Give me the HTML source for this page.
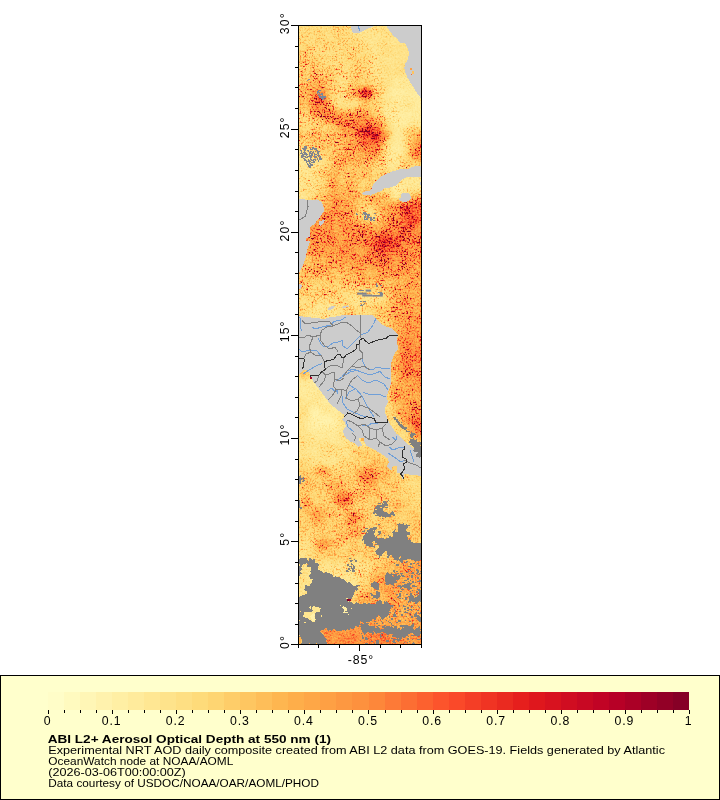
<!DOCTYPE html>
<html><head><meta charset="utf-8"><title>ABI L2+ Aerosol Optical Depth</title>
<style>
html,body{margin:0;padding:0;background:#fff;}
body{width:720px;height:800px;position:relative;overflow:hidden;font-family:"Liberation Sans",sans-serif;color:#000;}
#g{position:absolute;left:0;top:0;width:720px;height:800px;will-change:transform;}
</style></head><body>
<svg id="g" width="720" height="800" viewBox="0 0 720 800">
<rect x="0.5" y="675.5" width="719" height="124" fill="#ffffcc" stroke="#000" stroke-width="1"/>
<rect x="48.00" y="692" width="16.33" height="18" fill="#fffdc8" shape-rendering="crispEdges"/>
<rect x="64.03" y="692" width="16.32" height="18" fill="#fffabf" shape-rendering="crispEdges"/>
<rect x="80.05" y="692" width="16.33" height="18" fill="#fff6b6" shape-rendering="crispEdges"/>
<rect x="96.08" y="692" width="16.32" height="18" fill="#fff2ad" shape-rendering="crispEdges"/>
<rect x="112.10" y="692" width="16.33" height="18" fill="#ffefa4" shape-rendering="crispEdges"/>
<rect x="128.12" y="692" width="16.33" height="18" fill="#ffeb9c" shape-rendering="crispEdges"/>
<rect x="144.15" y="692" width="16.33" height="18" fill="#ffe793" shape-rendering="crispEdges"/>
<rect x="160.18" y="692" width="16.32" height="18" fill="#fee38b" shape-rendering="crispEdges"/>
<rect x="176.20" y="692" width="16.33" height="18" fill="#fedf83" shape-rendering="crispEdges"/>
<rect x="192.22" y="692" width="16.33" height="18" fill="#fedb7a" shape-rendering="crispEdges"/>
<rect x="208.25" y="692" width="16.33" height="18" fill="#fed572" shape-rendering="crispEdges"/>
<rect x="224.28" y="692" width="16.33" height="18" fill="#fecd69" shape-rendering="crispEdges"/>
<rect x="240.30" y="692" width="16.32" height="18" fill="#fec661" shape-rendering="crispEdges"/>
<rect x="256.32" y="692" width="16.33" height="18" fill="#febe59" shape-rendering="crispEdges"/>
<rect x="272.35" y="692" width="16.32" height="18" fill="#feb650" shape-rendering="crispEdges"/>
<rect x="288.38" y="692" width="16.32" height="18" fill="#feae4a" shape-rendering="crispEdges"/>
<rect x="304.40" y="692" width="16.33" height="18" fill="#fea747" shape-rendering="crispEdges"/>
<rect x="320.43" y="692" width="16.32" height="18" fill="#fea044" shape-rendering="crispEdges"/>
<rect x="336.45" y="692" width="16.33" height="18" fill="#fd9841" shape-rendering="crispEdges"/>
<rect x="352.48" y="692" width="16.32" height="18" fill="#fd913e" shape-rendering="crispEdges"/>
<rect x="368.50" y="692" width="16.32" height="18" fill="#fd873a" shape-rendering="crispEdges"/>
<rect x="384.52" y="692" width="16.33" height="18" fill="#fd7a37" shape-rendering="crispEdges"/>
<rect x="400.55" y="692" width="16.32" height="18" fill="#fc6e33" shape-rendering="crispEdges"/>
<rect x="416.57" y="692" width="16.33" height="18" fill="#fc612f" shape-rendering="crispEdges"/>
<rect x="432.60" y="692" width="16.32" height="18" fill="#fc542c" shape-rendering="crispEdges"/>
<rect x="448.62" y="692" width="16.32" height="18" fill="#fa4929" shape-rendering="crispEdges"/>
<rect x="464.65" y="692" width="16.33" height="18" fill="#f43e26" shape-rendering="crispEdges"/>
<rect x="480.68" y="692" width="16.32" height="18" fill="#f03423" shape-rendering="crispEdges"/>
<rect x="496.70" y="692" width="16.33" height="18" fill="#ea2a20" shape-rendering="crispEdges"/>
<rect x="512.73" y="692" width="16.32" height="18" fill="#e61f1d" shape-rendering="crispEdges"/>
<rect x="528.75" y="692" width="16.32" height="18" fill="#df171d" shape-rendering="crispEdges"/>
<rect x="544.77" y="692" width="16.32" height="18" fill="#d8121f" shape-rendering="crispEdges"/>
<rect x="560.80" y="692" width="16.33" height="18" fill="#d00d21" shape-rendering="crispEdges"/>
<rect x="576.83" y="692" width="16.32" height="18" fill="#c80823" shape-rendering="crispEdges"/>
<rect x="592.85" y="692" width="16.32" height="18" fill="#c10325" shape-rendering="crispEdges"/>
<rect x="608.88" y="692" width="16.32" height="18" fill="#b70026" shape-rendering="crispEdges"/>
<rect x="624.90" y="692" width="16.32" height="18" fill="#ab0026" shape-rendering="crispEdges"/>
<rect x="640.92" y="692" width="16.33" height="18" fill="#9e0026" shape-rendering="crispEdges"/>
<rect x="656.95" y="692" width="16.32" height="18" fill="#920026" shape-rendering="crispEdges"/>
<rect x="672.98" y="692" width="16.32" height="18" fill="#860026" shape-rendering="crispEdges"/>
<path d="M48.5 710V714M64.5 710V713M80.5 710V713M96.5 710V713M112.5 710V714M128.5 710V713M144.5 710V713M160.5 710V713M176.5 710V714M192.5 710V713M208.5 710V713M224.5 710V713M240.5 710V714M256.5 710V713M272.5 710V713M288.5 710V713M304.5 710V714M320.5 710V713M336.5 710V713M352.5 710V713M368.5 710V714M385.5 710V713M401.5 710V713M417.5 710V713M433.5 710V714M449.5 710V713M465.5 710V713M481.5 710V713M497.5 710V714M513.5 710V713M529.5 710V713M545.5 710V713M561.5 710V714M577.5 710V713M593.5 710V713M609.5 710V713M625.5 710V714M641.5 710V713M657.5 710V713M673.5 710V713M689.5 710V714" stroke="#000" stroke-width="1" fill="none" shape-rendering="crispEdges"/>
<defs>
<clipPath id="mc"><rect x="299" y="26" width="122" height="618"/></clipPath>
<filter id="aod" filterUnits="userSpaceOnUse" x="279" y="6" width="162" height="658" color-interpolation-filters="sRGB">
<feGaussianBlur in="SourceGraphic" stdDeviation="3.6" result="vb"/>
<feColorMatrix in="vb" type="matrix" values="1 0 0 0 0 1 0 0 0 0 1 0 0 0 0 0 0 0 0 1" result="vR"/>
<feColorMatrix in="vb" type="matrix" values="0 1 0 0 0 0 1 0 0 0 0 1 0 0 0 0 0 0 0 1" result="vG"/>
<feTurbulence type="fractalNoise" baseFrequency="0.58 0.55" numOctaves="3" seed="5" result="n0"/>
<feColorMatrix in="n0" type="matrix" values="1 0 0 0 0 1 0 0 0 0 1 0 0 0 0 0 0 0 0 1" result="n1"/>
<feComponentTransfer in="n1" result="n2"><feFuncR type="table" tableValues="0 0 0 0 0 0 0 0 0 0 0.03 0.1 0.2 0.33 0.5 0.68 0.85 1 1 1 1"/><feFuncG type="table" tableValues="0 0 0 0 0 0 0 0 0 0 0.03 0.1 0.2 0.33 0.5 0.68 0.85 1 1 1 1"/><feFuncB type="table" tableValues="0 0 0 0 0 0 0 0 0 0 0.03 0.1 0.2 0.33 0.5 0.68 0.85 1 1 1 1"/></feComponentTransfer>
<feTurbulence type="fractalNoise" baseFrequency="0.09" numOctaves="2" seed="11" result="m0"/>
<feColorMatrix in="m0" type="matrix" values="0 1 0 0 0 0 1 0 0 0 0 1 0 0 0 0 0 0 0 1" result="m1"/>
<feComposite in="vR" in2="m1" operator="arithmetic" k1="0.4" k2="0.8" k3="0" k4="0" result="v2"/>
<feComposite in="v2" in2="n1" operator="arithmetic" k1="0.7" k2="0.65" k3="0" k4="0" result="v3"/>
<feComponentTransfer in="m1" result="mT"><feFuncR type="table" tableValues="0 0 0 0.1 0.3 0.5 0.75 1 1 1 1"/><feFuncG type="table" tableValues="0 0 0 0.1 0.3 0.5 0.75 1 1 1 1"/><feFuncB type="table" tableValues="0 0 0 0.1 0.3 0.5 0.75 1 1 1 1"/></feComponentTransfer>
<feComposite in="vG" in2="mT" operator="arithmetic" k1="1.3" k2="0" k3="0" k4="0" result="vG2"/>
<feComposite in="vG2" in2="n2" operator="arithmetic" k1="1" k2="0" k3="0" k4="0" result="sp"/>
<feComposite in="v3" in2="sp" operator="arithmetic" k1="0" k2="1" k3="1" k4="0" result="v4"/>
<feComponentTransfer in="v4"><feFuncR type="table" tableValues="1 1 .9961 .9961 .9922 .9882 .8902 .7412 .502"/><feFuncG type="table" tableValues="1 .9294 .851 .698 .5529 .3059 .102 0 0"/><feFuncB type="table" tableValues=".8 .6275 .4627 .298 .2353 .1647 .1098 .149 .149"/></feComponentTransfer>
</filter>
</defs>
<g clip-path="url(#mc)">
<g filter="url(#aod)" shape-rendering="crispEdges">
<rect x="270" y="0" width="180" height="670" fill="#4c4c00"/>
<rect x="268.5" y="-4.5" width="40.5" height="40.5" fill="#3a4c00"/>
<rect x="308.8" y="-4.5" width="10.4" height="40.5" fill="#3a4c00"/>
<rect x="319.0" y="-4.5" width="10.4" height="40.5" fill="#3a4c00"/>
<rect x="329.2" y="-4.5" width="10.4" height="40.5" fill="#3a4c00"/>
<rect x="339.5" y="-4.5" width="10.4" height="40.5" fill="#3a4c00"/>
<rect x="349.8" y="-4.5" width="10.4" height="40.5" fill="#2d4c00"/>
<rect x="360.0" y="-4.5" width="10.4" height="40.5" fill="#2f3300"/>
<rect x="370.2" y="-4.5" width="10.4" height="40.5" fill="#2f3300"/>
<rect x="380.5" y="-4.5" width="10.4" height="40.5" fill="#311a00"/>
<rect x="390.8" y="-4.5" width="10.4" height="40.5" fill="#311a00"/>
<rect x="401.0" y="-4.5" width="10.4" height="40.5" fill="#330000"/>
<rect x="411.2" y="-4.5" width="40.5" height="40.5" fill="#330000"/>
<rect x="268.5" y="35.8" width="40.5" height="10.5" fill="#3a4c00"/>
<rect x="308.8" y="35.8" width="10.4" height="10.5" fill="#3a4c00"/>
<rect x="319.0" y="35.8" width="10.4" height="10.5" fill="#3a4c00"/>
<rect x="329.2" y="35.8" width="10.4" height="10.5" fill="#3a4c00"/>
<rect x="339.5" y="35.8" width="10.4" height="10.5" fill="#3a4c00"/>
<rect x="349.8" y="35.8" width="10.4" height="10.5" fill="#3a4c00"/>
<rect x="360.0" y="35.8" width="10.4" height="10.5" fill="#2f3300"/>
<rect x="370.2" y="35.8" width="10.4" height="10.5" fill="#2f3300"/>
<rect x="380.5" y="35.8" width="10.4" height="10.5" fill="#311a00"/>
<rect x="390.8" y="35.8" width="10.4" height="10.5" fill="#311a00"/>
<rect x="401.0" y="35.8" width="10.4" height="10.5" fill="#330000"/>
<rect x="411.2" y="35.8" width="40.5" height="10.5" fill="#330000"/>
<rect x="268.5" y="46.1" width="40.5" height="10.5" fill="#446600"/>
<rect x="308.8" y="46.1" width="10.4" height="10.5" fill="#386600"/>
<rect x="319.0" y="46.1" width="10.4" height="10.5" fill="#386600"/>
<rect x="329.2" y="46.1" width="10.4" height="10.5" fill="#386600"/>
<rect x="339.5" y="46.1" width="10.4" height="10.5" fill="#386600"/>
<rect x="349.8" y="46.1" width="10.4" height="10.5" fill="#386600"/>
<rect x="360.0" y="46.1" width="10.4" height="10.5" fill="#3a4c00"/>
<rect x="370.2" y="46.1" width="10.4" height="10.5" fill="#2d4c00"/>
<rect x="380.5" y="46.1" width="10.4" height="10.5" fill="#311a00"/>
<rect x="390.8" y="46.1" width="10.4" height="10.5" fill="#311a00"/>
<rect x="401.0" y="46.1" width="10.4" height="10.5" fill="#330000"/>
<rect x="411.2" y="46.1" width="40.5" height="10.5" fill="#330000"/>
<rect x="268.5" y="56.4" width="40.5" height="10.5" fill="#446600"/>
<rect x="308.8" y="56.4" width="10.4" height="10.5" fill="#446600"/>
<rect x="319.0" y="56.4" width="10.4" height="10.5" fill="#386600"/>
<rect x="329.2" y="56.4" width="10.4" height="10.5" fill="#386600"/>
<rect x="339.5" y="56.4" width="10.4" height="10.5" fill="#386600"/>
<rect x="349.8" y="56.4" width="10.4" height="10.5" fill="#446600"/>
<rect x="360.0" y="56.4" width="10.4" height="10.5" fill="#3a4c00"/>
<rect x="370.2" y="56.4" width="10.4" height="10.5" fill="#2d4c00"/>
<rect x="380.5" y="56.4" width="10.4" height="10.5" fill="#311a00"/>
<rect x="390.8" y="56.4" width="10.4" height="10.5" fill="#311a00"/>
<rect x="401.0" y="56.4" width="10.4" height="10.5" fill="#330000"/>
<rect x="411.2" y="56.4" width="40.5" height="10.5" fill="#330000"/>
<rect x="268.5" y="66.8" width="40.5" height="10.5" fill="#409900"/>
<rect x="308.8" y="66.8" width="10.4" height="10.5" fill="#4d9900"/>
<rect x="319.0" y="66.8" width="10.4" height="10.5" fill="#409900"/>
<rect x="329.2" y="66.8" width="10.4" height="10.5" fill="#409900"/>
<rect x="339.5" y="66.8" width="10.4" height="10.5" fill="#349900"/>
<rect x="349.8" y="66.8" width="10.4" height="10.5" fill="#409900"/>
<rect x="360.0" y="66.8" width="10.4" height="10.5" fill="#428000"/>
<rect x="370.2" y="66.8" width="10.4" height="10.5" fill="#298000"/>
<rect x="380.5" y="66.8" width="10.4" height="10.5" fill="#311a00"/>
<rect x="390.8" y="66.8" width="10.4" height="10.5" fill="#311a00"/>
<rect x="401.0" y="66.8" width="10.4" height="10.5" fill="#311a00"/>
<rect x="411.2" y="66.8" width="40.5" height="10.5" fill="#311a00"/>
<rect x="268.5" y="77.1" width="40.5" height="10.5" fill="#4d9900"/>
<rect x="308.8" y="77.1" width="10.4" height="10.5" fill="#5a9900"/>
<rect x="319.0" y="77.1" width="10.4" height="10.5" fill="#5a9900"/>
<rect x="329.2" y="77.1" width="10.4" height="10.5" fill="#409900"/>
<rect x="339.5" y="77.1" width="10.4" height="10.5" fill="#349900"/>
<rect x="349.8" y="77.1" width="10.4" height="10.5" fill="#4d9900"/>
<rect x="360.0" y="77.1" width="10.4" height="10.5" fill="#428000"/>
<rect x="370.2" y="77.1" width="10.4" height="10.5" fill="#368000"/>
<rect x="380.5" y="77.1" width="10.4" height="10.5" fill="#311a00"/>
<rect x="390.8" y="77.1" width="10.4" height="10.5" fill="#241a00"/>
<rect x="401.0" y="77.1" width="10.4" height="10.5" fill="#241a00"/>
<rect x="411.2" y="77.1" width="40.5" height="10.5" fill="#241a00"/>
<rect x="268.5" y="87.4" width="40.5" height="10.5" fill="#56cc00"/>
<rect x="308.8" y="87.4" width="10.4" height="10.5" fill="#62cc00"/>
<rect x="319.0" y="87.4" width="10.4" height="10.5" fill="#62cc00"/>
<rect x="329.2" y="87.4" width="10.4" height="10.5" fill="#3ccc00"/>
<rect x="339.5" y="87.4" width="10.4" height="10.5" fill="#31b200"/>
<rect x="349.8" y="87.4" width="10.4" height="10.5" fill="#58b200"/>
<rect x="360.0" y="87.4" width="10.4" height="10.5" fill="#71b200"/>
<rect x="370.2" y="87.4" width="10.4" height="10.5" fill="#3eb200"/>
<rect x="380.5" y="87.4" width="10.4" height="10.5" fill="#2f3300"/>
<rect x="390.8" y="87.4" width="10.4" height="10.5" fill="#223300"/>
<rect x="401.0" y="87.4" width="10.4" height="10.5" fill="#241a00"/>
<rect x="411.2" y="87.4" width="40.5" height="10.5" fill="#241a00"/>
<rect x="268.5" y="97.7" width="40.5" height="10.5" fill="#56cc00"/>
<rect x="308.8" y="97.7" width="10.4" height="10.5" fill="#62cc00"/>
<rect x="319.0" y="97.7" width="10.4" height="10.5" fill="#62cc00"/>
<rect x="329.2" y="97.7" width="10.4" height="10.5" fill="#2fcc00"/>
<rect x="339.5" y="97.7" width="10.4" height="10.5" fill="#31b200"/>
<rect x="349.8" y="97.7" width="10.4" height="10.5" fill="#58b200"/>
<rect x="360.0" y="97.7" width="10.4" height="10.5" fill="#58b200"/>
<rect x="370.2" y="97.7" width="10.4" height="10.5" fill="#3eb200"/>
<rect x="380.5" y="97.7" width="10.4" height="10.5" fill="#2f3300"/>
<rect x="390.8" y="97.7" width="10.4" height="10.5" fill="#223300"/>
<rect x="401.0" y="97.7" width="10.4" height="10.5" fill="#241a00"/>
<rect x="411.2" y="97.7" width="40.5" height="10.5" fill="#241a00"/>
<rect x="268.5" y="108.0" width="40.5" height="10.5" fill="#3ccc00"/>
<rect x="308.8" y="108.0" width="10.4" height="10.5" fill="#56cc00"/>
<rect x="319.0" y="108.0" width="10.4" height="10.5" fill="#3ccc00"/>
<rect x="329.2" y="108.0" width="10.4" height="10.5" fill="#3ccc00"/>
<rect x="339.5" y="108.0" width="10.4" height="10.5" fill="#3ccc00"/>
<rect x="349.8" y="108.0" width="10.4" height="10.5" fill="#56cc00"/>
<rect x="360.0" y="108.0" width="10.4" height="10.5" fill="#56cc00"/>
<rect x="370.2" y="108.0" width="10.4" height="10.5" fill="#49cc00"/>
<rect x="380.5" y="108.0" width="10.4" height="10.5" fill="#204c00"/>
<rect x="390.8" y="108.0" width="10.4" height="10.5" fill="#204c00"/>
<rect x="401.0" y="108.0" width="10.4" height="10.5" fill="#241a00"/>
<rect x="411.2" y="108.0" width="40.5" height="10.5" fill="#241a00"/>
<rect x="268.5" y="118.3" width="40.5" height="10.5" fill="#3ccc00"/>
<rect x="308.8" y="118.3" width="10.4" height="10.5" fill="#3ccc00"/>
<rect x="319.0" y="118.3" width="10.4" height="10.5" fill="#3ccc00"/>
<rect x="329.2" y="118.3" width="10.4" height="10.5" fill="#3ccc00"/>
<rect x="339.5" y="118.3" width="10.4" height="10.5" fill="#56cc00"/>
<rect x="349.8" y="118.3" width="10.4" height="10.5" fill="#56cc00"/>
<rect x="360.0" y="118.3" width="10.4" height="10.5" fill="#6fcc00"/>
<rect x="370.2" y="118.3" width="10.4" height="10.5" fill="#6fcc00"/>
<rect x="380.5" y="118.3" width="10.4" height="10.5" fill="#3a4c00"/>
<rect x="390.8" y="118.3" width="10.4" height="10.5" fill="#204c00"/>
<rect x="401.0" y="118.3" width="10.4" height="10.5" fill="#241a00"/>
<rect x="411.2" y="118.3" width="40.5" height="10.5" fill="#241a00"/>
<rect x="268.5" y="128.6" width="40.5" height="10.5" fill="#4bb200"/>
<rect x="308.8" y="128.6" width="10.4" height="10.5" fill="#4bb200"/>
<rect x="319.0" y="128.6" width="10.4" height="10.5" fill="#4bb200"/>
<rect x="329.2" y="128.6" width="10.4" height="10.5" fill="#4bb200"/>
<rect x="339.5" y="128.6" width="10.4" height="10.5" fill="#62cc00"/>
<rect x="349.8" y="128.6" width="10.4" height="10.5" fill="#62cc00"/>
<rect x="360.0" y="128.6" width="10.4" height="10.5" fill="#95cc00"/>
<rect x="370.2" y="128.6" width="10.4" height="10.5" fill="#a2cc00"/>
<rect x="380.5" y="128.6" width="10.4" height="10.5" fill="#5e6600"/>
<rect x="390.8" y="128.6" width="10.4" height="10.5" fill="#2b6600"/>
<rect x="401.0" y="128.6" width="10.4" height="10.5" fill="#409900"/>
<rect x="411.2" y="128.6" width="40.5" height="10.5" fill="#5a9900"/>
<rect x="268.5" y="139.0" width="40.5" height="10.5" fill="#3eb200"/>
<rect x="308.8" y="139.0" width="10.4" height="10.5" fill="#4bb200"/>
<rect x="319.0" y="139.0" width="10.4" height="10.5" fill="#4bb200"/>
<rect x="329.2" y="139.0" width="10.4" height="10.5" fill="#4bb200"/>
<rect x="339.5" y="139.0" width="10.4" height="10.5" fill="#56cc00"/>
<rect x="349.8" y="139.0" width="10.4" height="10.5" fill="#62cc00"/>
<rect x="360.0" y="139.0" width="10.4" height="10.5" fill="#89cc00"/>
<rect x="370.2" y="139.0" width="10.4" height="10.5" fill="#89cc00"/>
<rect x="380.5" y="139.0" width="10.4" height="10.5" fill="#386600"/>
<rect x="390.8" y="139.0" width="10.4" height="10.5" fill="#1e6600"/>
<rect x="401.0" y="139.0" width="10.4" height="10.5" fill="#349900"/>
<rect x="411.2" y="139.0" width="40.5" height="10.5" fill="#739900"/>
<rect x="268.5" y="149.3" width="40.5" height="10.5" fill="#2b6600"/>
<rect x="308.8" y="149.3" width="10.4" height="10.5" fill="#386600"/>
<rect x="319.0" y="149.3" width="10.4" height="10.5" fill="#409900"/>
<rect x="329.2" y="149.3" width="10.4" height="10.5" fill="#4d9900"/>
<rect x="339.5" y="149.3" width="10.4" height="10.5" fill="#5a9900"/>
<rect x="349.8" y="149.3" width="10.4" height="10.5" fill="#5a9900"/>
<rect x="360.0" y="149.3" width="10.4" height="10.5" fill="#679900"/>
<rect x="370.2" y="149.3" width="10.4" height="10.5" fill="#679900"/>
<rect x="380.5" y="149.3" width="10.4" height="10.5" fill="#298000"/>
<rect x="390.8" y="149.3" width="10.4" height="10.5" fill="#1c8000"/>
<rect x="401.0" y="149.3" width="10.4" height="10.5" fill="#409900"/>
<rect x="411.2" y="149.3" width="40.5" height="10.5" fill="#739900"/>
<rect x="268.5" y="159.6" width="40.5" height="10.5" fill="#2b6600"/>
<rect x="308.8" y="159.6" width="10.4" height="10.5" fill="#2b6600"/>
<rect x="319.0" y="159.6" width="10.4" height="10.5" fill="#349900"/>
<rect x="329.2" y="159.6" width="10.4" height="10.5" fill="#4d9900"/>
<rect x="339.5" y="159.6" width="10.4" height="10.5" fill="#5a9900"/>
<rect x="349.8" y="159.6" width="10.4" height="10.5" fill="#4d9900"/>
<rect x="360.0" y="159.6" width="10.4" height="10.5" fill="#4d9900"/>
<rect x="370.2" y="159.6" width="10.4" height="10.5" fill="#409900"/>
<rect x="380.5" y="159.6" width="10.4" height="10.5" fill="#298000"/>
<rect x="390.8" y="159.6" width="10.4" height="10.5" fill="#298000"/>
<rect x="401.0" y="159.6" width="10.4" height="10.5" fill="#409900"/>
<rect x="411.2" y="159.6" width="40.5" height="10.5" fill="#409900"/>
<rect x="268.5" y="169.9" width="40.5" height="10.5" fill="#2d4c00"/>
<rect x="308.8" y="169.9" width="10.4" height="10.5" fill="#2d4c00"/>
<rect x="319.0" y="169.9" width="10.4" height="10.5" fill="#428000"/>
<rect x="329.2" y="169.9" width="10.4" height="10.5" fill="#5c8000"/>
<rect x="339.5" y="169.9" width="10.4" height="10.5" fill="#428000"/>
<rect x="349.8" y="169.9" width="10.4" height="10.5" fill="#4f8000"/>
<rect x="360.0" y="169.9" width="10.4" height="10.5" fill="#4f8000"/>
<rect x="370.2" y="169.9" width="10.4" height="10.5" fill="#428000"/>
<rect x="380.5" y="169.9" width="10.4" height="10.5" fill="#428000"/>
<rect x="390.8" y="169.9" width="10.4" height="10.5" fill="#428000"/>
<rect x="401.0" y="169.9" width="10.4" height="10.5" fill="#2b6600"/>
<rect x="411.2" y="169.9" width="40.5" height="10.5" fill="#2b6600"/>
<rect x="268.5" y="180.2" width="40.5" height="10.5" fill="#2d4c00"/>
<rect x="308.8" y="180.2" width="10.4" height="10.5" fill="#2d4c00"/>
<rect x="319.0" y="180.2" width="10.4" height="10.5" fill="#428000"/>
<rect x="329.2" y="180.2" width="10.4" height="10.5" fill="#5c8000"/>
<rect x="339.5" y="180.2" width="10.4" height="10.5" fill="#4f8000"/>
<rect x="349.8" y="180.2" width="10.4" height="10.5" fill="#4f8000"/>
<rect x="360.0" y="180.2" width="10.4" height="10.5" fill="#428000"/>
<rect x="370.2" y="180.2" width="10.4" height="10.5" fill="#428000"/>
<rect x="380.5" y="180.2" width="10.4" height="10.5" fill="#298000"/>
<rect x="390.8" y="180.2" width="10.4" height="10.5" fill="#1c8000"/>
<rect x="401.0" y="180.2" width="10.4" height="10.5" fill="#1e6600"/>
<rect x="411.2" y="180.2" width="40.5" height="10.5" fill="#1e6600"/>
<rect x="268.5" y="190.5" width="40.5" height="10.5" fill="#2d4c00"/>
<rect x="308.8" y="190.5" width="10.4" height="10.5" fill="#3a4c00"/>
<rect x="319.0" y="190.5" width="10.4" height="10.5" fill="#4d9900"/>
<rect x="329.2" y="190.5" width="10.4" height="10.5" fill="#679900"/>
<rect x="339.5" y="190.5" width="10.4" height="10.5" fill="#5a9900"/>
<rect x="349.8" y="190.5" width="10.4" height="10.5" fill="#5a9900"/>
<rect x="360.0" y="190.5" width="10.4" height="10.5" fill="#4d9900"/>
<rect x="370.2" y="190.5" width="10.4" height="10.5" fill="#5a9900"/>
<rect x="380.5" y="190.5" width="10.4" height="10.5" fill="#4bb200"/>
<rect x="390.8" y="190.5" width="10.4" height="10.5" fill="#25b200"/>
<rect x="401.0" y="190.5" width="10.4" height="10.5" fill="#3ccc00"/>
<rect x="411.2" y="190.5" width="40.5" height="10.5" fill="#56cc00"/>
<rect x="268.5" y="200.9" width="40.5" height="10.5" fill="#464c00"/>
<rect x="308.8" y="200.9" width="10.4" height="10.5" fill="#464c00"/>
<rect x="319.0" y="200.9" width="10.4" height="10.5" fill="#5a9900"/>
<rect x="329.2" y="200.9" width="10.4" height="10.5" fill="#739900"/>
<rect x="339.5" y="200.9" width="10.4" height="10.5" fill="#679900"/>
<rect x="349.8" y="200.9" width="10.4" height="10.5" fill="#5a9900"/>
<rect x="360.0" y="200.9" width="10.4" height="10.5" fill="#409900"/>
<rect x="370.2" y="200.9" width="10.4" height="10.5" fill="#4d9900"/>
<rect x="380.5" y="200.9" width="10.4" height="10.5" fill="#64b200"/>
<rect x="390.8" y="200.9" width="10.4" height="10.5" fill="#71b200"/>
<rect x="401.0" y="200.9" width="10.4" height="10.5" fill="#7ccc00"/>
<rect x="411.2" y="200.9" width="40.5" height="10.5" fill="#95cc00"/>
<rect x="268.5" y="211.2" width="40.5" height="10.5" fill="#5c8000"/>
<rect x="308.8" y="211.2" width="10.4" height="10.5" fill="#5c8000"/>
<rect x="319.0" y="211.2" width="10.4" height="10.5" fill="#71b200"/>
<rect x="329.2" y="211.2" width="10.4" height="10.5" fill="#71b200"/>
<rect x="339.5" y="211.2" width="10.4" height="10.5" fill="#64b200"/>
<rect x="349.8" y="211.2" width="10.4" height="10.5" fill="#58b200"/>
<rect x="360.0" y="211.2" width="10.4" height="10.5" fill="#31b200"/>
<rect x="370.2" y="211.2" width="10.4" height="10.5" fill="#31b200"/>
<rect x="380.5" y="211.2" width="10.4" height="10.5" fill="#62cc00"/>
<rect x="390.8" y="211.2" width="10.4" height="10.5" fill="#6fcc00"/>
<rect x="401.0" y="211.2" width="10.4" height="10.5" fill="#89cc00"/>
<rect x="411.2" y="211.2" width="40.5" height="10.5" fill="#95cc00"/>
<rect x="268.5" y="221.5" width="40.5" height="10.5" fill="#758000"/>
<rect x="308.8" y="221.5" width="10.4" height="10.5" fill="#758000"/>
<rect x="319.0" y="221.5" width="10.4" height="10.5" fill="#71b200"/>
<rect x="329.2" y="221.5" width="10.4" height="10.5" fill="#71b200"/>
<rect x="339.5" y="221.5" width="10.4" height="10.5" fill="#71b200"/>
<rect x="349.8" y="221.5" width="10.4" height="10.5" fill="#71b200"/>
<rect x="360.0" y="221.5" width="10.4" height="10.5" fill="#64b200"/>
<rect x="370.2" y="221.5" width="10.4" height="10.5" fill="#64b200"/>
<rect x="380.5" y="221.5" width="10.4" height="10.5" fill="#6fcc00"/>
<rect x="390.8" y="221.5" width="10.4" height="10.5" fill="#7ccc00"/>
<rect x="401.0" y="221.5" width="10.4" height="10.5" fill="#89cc00"/>
<rect x="411.2" y="221.5" width="40.5" height="10.5" fill="#89cc00"/>
<rect x="268.5" y="231.8" width="40.5" height="10.5" fill="#71b200"/>
<rect x="308.8" y="231.8" width="10.4" height="10.5" fill="#64b200"/>
<rect x="319.0" y="231.8" width="10.4" height="10.5" fill="#71b200"/>
<rect x="329.2" y="231.8" width="10.4" height="10.5" fill="#71b200"/>
<rect x="339.5" y="231.8" width="10.4" height="10.5" fill="#6fcc00"/>
<rect x="349.8" y="231.8" width="10.4" height="10.5" fill="#6fcc00"/>
<rect x="360.0" y="231.8" width="10.4" height="10.5" fill="#7ccc00"/>
<rect x="370.2" y="231.8" width="10.4" height="10.5" fill="#7ccc00"/>
<rect x="380.5" y="231.8" width="10.4" height="10.5" fill="#95cc00"/>
<rect x="390.8" y="231.8" width="10.4" height="10.5" fill="#95cc00"/>
<rect x="401.0" y="231.8" width="10.4" height="10.5" fill="#7ccc00"/>
<rect x="411.2" y="231.8" width="40.5" height="10.5" fill="#7ccc00"/>
<rect x="268.5" y="242.1" width="40.5" height="10.5" fill="#71b200"/>
<rect x="308.8" y="242.1" width="10.4" height="10.5" fill="#64b200"/>
<rect x="319.0" y="242.1" width="10.4" height="10.5" fill="#71b200"/>
<rect x="329.2" y="242.1" width="10.4" height="10.5" fill="#71b200"/>
<rect x="339.5" y="242.1" width="10.4" height="10.5" fill="#6fcc00"/>
<rect x="349.8" y="242.1" width="10.4" height="10.5" fill="#6fcc00"/>
<rect x="360.0" y="242.1" width="10.4" height="10.5" fill="#7ccc00"/>
<rect x="370.2" y="242.1" width="10.4" height="10.5" fill="#89cc00"/>
<rect x="380.5" y="242.1" width="10.4" height="10.5" fill="#95cc00"/>
<rect x="390.8" y="242.1" width="10.4" height="10.5" fill="#95cc00"/>
<rect x="401.0" y="242.1" width="10.4" height="10.5" fill="#7ccc00"/>
<rect x="411.2" y="242.1" width="40.5" height="10.5" fill="#6fcc00"/>
<rect x="268.5" y="252.4" width="40.5" height="10.5" fill="#58b200"/>
<rect x="308.8" y="252.4" width="10.4" height="10.5" fill="#58b200"/>
<rect x="319.0" y="252.4" width="10.4" height="10.5" fill="#64b200"/>
<rect x="329.2" y="252.4" width="10.4" height="10.5" fill="#64b200"/>
<rect x="339.5" y="252.4" width="10.4" height="10.5" fill="#71b200"/>
<rect x="349.8" y="252.4" width="10.4" height="10.5" fill="#71b200"/>
<rect x="360.0" y="252.4" width="10.4" height="10.5" fill="#6fcc00"/>
<rect x="370.2" y="252.4" width="10.4" height="10.5" fill="#7ccc00"/>
<rect x="380.5" y="252.4" width="10.4" height="10.5" fill="#7ccc00"/>
<rect x="390.8" y="252.4" width="10.4" height="10.5" fill="#7ccc00"/>
<rect x="401.0" y="252.4" width="10.4" height="10.5" fill="#71b200"/>
<rect x="411.2" y="252.4" width="40.5" height="10.5" fill="#71b200"/>
<rect x="268.5" y="262.7" width="40.5" height="10.5" fill="#4bb200"/>
<rect x="308.8" y="262.7" width="10.4" height="10.5" fill="#58b200"/>
<rect x="319.0" y="262.7" width="10.4" height="10.5" fill="#58b200"/>
<rect x="329.2" y="262.7" width="10.4" height="10.5" fill="#58b200"/>
<rect x="339.5" y="262.7" width="10.4" height="10.5" fill="#58b200"/>
<rect x="349.8" y="262.7" width="10.4" height="10.5" fill="#64b200"/>
<rect x="360.0" y="262.7" width="10.4" height="10.5" fill="#62cc00"/>
<rect x="370.2" y="262.7" width="10.4" height="10.5" fill="#6fcc00"/>
<rect x="380.5" y="262.7" width="10.4" height="10.5" fill="#6fcc00"/>
<rect x="390.8" y="262.7" width="10.4" height="10.5" fill="#6fcc00"/>
<rect x="401.0" y="262.7" width="10.4" height="10.5" fill="#71b200"/>
<rect x="411.2" y="262.7" width="40.5" height="10.5" fill="#64b200"/>
<rect x="268.5" y="273.1" width="40.5" height="10.5" fill="#4d9900"/>
<rect x="308.8" y="273.1" width="10.4" height="10.5" fill="#4d9900"/>
<rect x="319.0" y="273.1" width="10.4" height="10.5" fill="#4d9900"/>
<rect x="329.2" y="273.1" width="10.4" height="10.5" fill="#4d9900"/>
<rect x="339.5" y="273.1" width="10.4" height="10.5" fill="#4d9900"/>
<rect x="349.8" y="273.1" width="10.4" height="10.5" fill="#4d9900"/>
<rect x="360.0" y="273.1" width="10.4" height="10.5" fill="#5a9900"/>
<rect x="370.2" y="273.1" width="10.4" height="10.5" fill="#5a9900"/>
<rect x="380.5" y="273.1" width="10.4" height="10.5" fill="#58b200"/>
<rect x="390.8" y="273.1" width="10.4" height="10.5" fill="#64b200"/>
<rect x="401.0" y="273.1" width="10.4" height="10.5" fill="#64b200"/>
<rect x="411.2" y="273.1" width="40.5" height="10.5" fill="#64b200"/>
<rect x="268.5" y="283.4" width="40.5" height="10.5" fill="#409900"/>
<rect x="308.8" y="283.4" width="10.4" height="10.5" fill="#409900"/>
<rect x="319.0" y="283.4" width="10.4" height="10.5" fill="#409900"/>
<rect x="329.2" y="283.4" width="10.4" height="10.5" fill="#409900"/>
<rect x="339.5" y="283.4" width="10.4" height="10.5" fill="#409900"/>
<rect x="349.8" y="283.4" width="10.4" height="10.5" fill="#409900"/>
<rect x="360.0" y="283.4" width="10.4" height="10.5" fill="#409900"/>
<rect x="370.2" y="283.4" width="10.4" height="10.5" fill="#409900"/>
<rect x="380.5" y="283.4" width="10.4" height="10.5" fill="#4bb200"/>
<rect x="390.8" y="283.4" width="10.4" height="10.5" fill="#58b200"/>
<rect x="401.0" y="283.4" width="10.4" height="10.5" fill="#64b200"/>
<rect x="411.2" y="283.4" width="40.5" height="10.5" fill="#64b200"/>
<rect x="268.5" y="293.7" width="40.5" height="10.5" fill="#386600"/>
<rect x="308.8" y="293.7" width="10.4" height="10.5" fill="#386600"/>
<rect x="319.0" y="293.7" width="10.4" height="10.5" fill="#386600"/>
<rect x="329.2" y="293.7" width="10.4" height="10.5" fill="#386600"/>
<rect x="339.5" y="293.7" width="10.4" height="10.5" fill="#386600"/>
<rect x="349.8" y="293.7" width="10.4" height="10.5" fill="#2b6600"/>
<rect x="360.0" y="293.7" width="10.4" height="10.5" fill="#2b6600"/>
<rect x="370.2" y="293.7" width="10.4" height="10.5" fill="#2b6600"/>
<rect x="380.5" y="293.7" width="10.4" height="10.5" fill="#409900"/>
<rect x="390.8" y="293.7" width="10.4" height="10.5" fill="#5a9900"/>
<rect x="401.0" y="293.7" width="10.4" height="10.5" fill="#64b200"/>
<rect x="411.2" y="293.7" width="40.5" height="10.5" fill="#64b200"/>
<rect x="268.5" y="304.0" width="40.5" height="10.5" fill="#386600"/>
<rect x="308.8" y="304.0" width="10.4" height="10.5" fill="#2b6600"/>
<rect x="319.0" y="304.0" width="10.4" height="10.5" fill="#2b6600"/>
<rect x="329.2" y="304.0" width="10.4" height="10.5" fill="#2b6600"/>
<rect x="339.5" y="304.0" width="10.4" height="10.5" fill="#386600"/>
<rect x="349.8" y="304.0" width="10.4" height="10.5" fill="#386600"/>
<rect x="360.0" y="304.0" width="10.4" height="10.5" fill="#386600"/>
<rect x="370.2" y="304.0" width="10.4" height="10.5" fill="#446600"/>
<rect x="380.5" y="304.0" width="10.4" height="10.5" fill="#4d9900"/>
<rect x="390.8" y="304.0" width="10.4" height="10.5" fill="#5a9900"/>
<rect x="401.0" y="304.0" width="10.4" height="10.5" fill="#64b200"/>
<rect x="411.2" y="304.0" width="40.5" height="10.5" fill="#64b200"/>
<rect x="268.5" y="314.3" width="40.5" height="10.5" fill="#3a4c00"/>
<rect x="308.8" y="314.3" width="10.4" height="10.5" fill="#2d4c00"/>
<rect x="319.0" y="314.3" width="10.4" height="10.5" fill="#2d4c00"/>
<rect x="329.2" y="314.3" width="10.4" height="10.5" fill="#2d4c00"/>
<rect x="339.5" y="314.3" width="10.4" height="10.5" fill="#3a4c00"/>
<rect x="349.8" y="314.3" width="10.4" height="10.5" fill="#3a4c00"/>
<rect x="360.0" y="314.3" width="10.4" height="10.5" fill="#386600"/>
<rect x="370.2" y="314.3" width="10.4" height="10.5" fill="#446600"/>
<rect x="380.5" y="314.3" width="10.4" height="10.5" fill="#428000"/>
<rect x="390.8" y="314.3" width="10.4" height="10.5" fill="#5c8000"/>
<rect x="401.0" y="314.3" width="10.4" height="10.5" fill="#679900"/>
<rect x="411.2" y="314.3" width="40.5" height="10.5" fill="#739900"/>
<rect x="268.5" y="324.6" width="40.5" height="10.5" fill="#2d4c00"/>
<rect x="308.8" y="324.6" width="10.4" height="10.5" fill="#2d4c00"/>
<rect x="319.0" y="324.6" width="10.4" height="10.5" fill="#2d4c00"/>
<rect x="329.2" y="324.6" width="10.4" height="10.5" fill="#2d4c00"/>
<rect x="339.5" y="324.6" width="10.4" height="10.5" fill="#2d4c00"/>
<rect x="349.8" y="324.6" width="10.4" height="10.5" fill="#2d4c00"/>
<rect x="360.0" y="324.6" width="10.4" height="10.5" fill="#2b6600"/>
<rect x="370.2" y="324.6" width="10.4" height="10.5" fill="#446600"/>
<rect x="380.5" y="324.6" width="10.4" height="10.5" fill="#428000"/>
<rect x="390.8" y="324.6" width="10.4" height="10.5" fill="#5c8000"/>
<rect x="401.0" y="324.6" width="10.4" height="10.5" fill="#679900"/>
<rect x="411.2" y="324.6" width="40.5" height="10.5" fill="#739900"/>
<rect x="268.5" y="334.9" width="40.5" height="10.5" fill="#330000"/>
<rect x="308.8" y="334.9" width="10.4" height="10.5" fill="#330000"/>
<rect x="319.0" y="334.9" width="10.4" height="10.5" fill="#330000"/>
<rect x="329.2" y="334.9" width="10.4" height="10.5" fill="#330000"/>
<rect x="339.5" y="334.9" width="10.4" height="10.5" fill="#330000"/>
<rect x="349.8" y="334.9" width="10.4" height="10.5" fill="#330000"/>
<rect x="360.0" y="334.9" width="10.4" height="10.5" fill="#330000"/>
<rect x="370.2" y="334.9" width="10.4" height="10.5" fill="#4c0000"/>
<rect x="380.5" y="334.9" width="10.4" height="10.5" fill="#428000"/>
<rect x="390.8" y="334.9" width="10.4" height="10.5" fill="#5c8000"/>
<rect x="401.0" y="334.9" width="10.4" height="10.5" fill="#809900"/>
<rect x="411.2" y="334.9" width="40.5" height="10.5" fill="#739900"/>
<rect x="268.5" y="345.3" width="40.5" height="10.5" fill="#330000"/>
<rect x="308.8" y="345.3" width="10.4" height="10.5" fill="#330000"/>
<rect x="319.0" y="345.3" width="10.4" height="10.5" fill="#330000"/>
<rect x="329.2" y="345.3" width="10.4" height="10.5" fill="#330000"/>
<rect x="339.5" y="345.3" width="10.4" height="10.5" fill="#330000"/>
<rect x="349.8" y="345.3" width="10.4" height="10.5" fill="#330000"/>
<rect x="360.0" y="345.3" width="10.4" height="10.5" fill="#330000"/>
<rect x="370.2" y="345.3" width="10.4" height="10.5" fill="#4c0000"/>
<rect x="380.5" y="345.3" width="10.4" height="10.5" fill="#428000"/>
<rect x="390.8" y="345.3" width="10.4" height="10.5" fill="#5c8000"/>
<rect x="401.0" y="345.3" width="10.4" height="10.5" fill="#809900"/>
<rect x="411.2" y="345.3" width="40.5" height="10.5" fill="#809900"/>
<rect x="268.5" y="355.6" width="40.5" height="10.5" fill="#330000"/>
<rect x="308.8" y="355.6" width="10.4" height="10.5" fill="#330000"/>
<rect x="319.0" y="355.6" width="10.4" height="10.5" fill="#330000"/>
<rect x="329.2" y="355.6" width="10.4" height="10.5" fill="#330000"/>
<rect x="339.5" y="355.6" width="10.4" height="10.5" fill="#330000"/>
<rect x="349.8" y="355.6" width="10.4" height="10.5" fill="#330000"/>
<rect x="360.0" y="355.6" width="10.4" height="10.5" fill="#330000"/>
<rect x="370.2" y="355.6" width="10.4" height="10.5" fill="#4c0000"/>
<rect x="380.5" y="355.6" width="10.4" height="10.5" fill="#428000"/>
<rect x="390.8" y="355.6" width="10.4" height="10.5" fill="#5c8000"/>
<rect x="401.0" y="355.6" width="10.4" height="10.5" fill="#809900"/>
<rect x="411.2" y="355.6" width="40.5" height="10.5" fill="#809900"/>
<rect x="268.5" y="365.9" width="40.5" height="10.5" fill="#330000"/>
<rect x="308.8" y="365.9" width="10.4" height="10.5" fill="#330000"/>
<rect x="319.0" y="365.9" width="10.4" height="10.5" fill="#330000"/>
<rect x="329.2" y="365.9" width="10.4" height="10.5" fill="#330000"/>
<rect x="339.5" y="365.9" width="10.4" height="10.5" fill="#330000"/>
<rect x="349.8" y="365.9" width="10.4" height="10.5" fill="#330000"/>
<rect x="360.0" y="365.9" width="10.4" height="10.5" fill="#330000"/>
<rect x="370.2" y="365.9" width="10.4" height="10.5" fill="#4c0000"/>
<rect x="380.5" y="365.9" width="10.4" height="10.5" fill="#428000"/>
<rect x="390.8" y="365.9" width="10.4" height="10.5" fill="#5c8000"/>
<rect x="401.0" y="365.9" width="10.4" height="10.5" fill="#809900"/>
<rect x="411.2" y="365.9" width="40.5" height="10.5" fill="#739900"/>
<rect x="268.5" y="376.2" width="40.5" height="10.5" fill="#241a00"/>
<rect x="308.8" y="376.2" width="10.4" height="10.5" fill="#241a00"/>
<rect x="319.0" y="376.2" width="10.4" height="10.5" fill="#311a00"/>
<rect x="329.2" y="376.2" width="10.4" height="10.5" fill="#311a00"/>
<rect x="339.5" y="376.2" width="10.4" height="10.5" fill="#330000"/>
<rect x="349.8" y="376.2" width="10.4" height="10.5" fill="#330000"/>
<rect x="360.0" y="376.2" width="10.4" height="10.5" fill="#330000"/>
<rect x="370.2" y="376.2" width="10.4" height="10.5" fill="#4c0000"/>
<rect x="380.5" y="376.2" width="10.4" height="10.5" fill="#428000"/>
<rect x="390.8" y="376.2" width="10.4" height="10.5" fill="#5c8000"/>
<rect x="401.0" y="376.2" width="10.4" height="10.5" fill="#679900"/>
<rect x="411.2" y="376.2" width="40.5" height="10.5" fill="#739900"/>
<rect x="268.5" y="386.5" width="40.5" height="10.5" fill="#241a00"/>
<rect x="308.8" y="386.5" width="10.4" height="10.5" fill="#241a00"/>
<rect x="319.0" y="386.5" width="10.4" height="10.5" fill="#241a00"/>
<rect x="329.2" y="386.5" width="10.4" height="10.5" fill="#311a00"/>
<rect x="339.5" y="386.5" width="10.4" height="10.5" fill="#330000"/>
<rect x="349.8" y="386.5" width="10.4" height="10.5" fill="#330000"/>
<rect x="360.0" y="386.5" width="10.4" height="10.5" fill="#330000"/>
<rect x="370.2" y="386.5" width="10.4" height="10.5" fill="#4c0000"/>
<rect x="380.5" y="386.5" width="10.4" height="10.5" fill="#428000"/>
<rect x="390.8" y="386.5" width="10.4" height="10.5" fill="#5c8000"/>
<rect x="401.0" y="386.5" width="10.4" height="10.5" fill="#679900"/>
<rect x="411.2" y="386.5" width="40.5" height="10.5" fill="#679900"/>
<rect x="268.5" y="396.8" width="40.5" height="10.5" fill="#311a00"/>
<rect x="308.8" y="396.8" width="10.4" height="10.5" fill="#241a00"/>
<rect x="319.0" y="396.8" width="10.4" height="10.5" fill="#241a00"/>
<rect x="329.2" y="396.8" width="10.4" height="10.5" fill="#241a00"/>
<rect x="339.5" y="396.8" width="10.4" height="10.5" fill="#311a00"/>
<rect x="349.8" y="396.8" width="10.4" height="10.5" fill="#311a00"/>
<rect x="360.0" y="396.8" width="10.4" height="10.5" fill="#330000"/>
<rect x="370.2" y="396.8" width="10.4" height="10.5" fill="#4c0000"/>
<rect x="380.5" y="396.8" width="10.4" height="10.5" fill="#428000"/>
<rect x="390.8" y="396.8" width="10.4" height="10.5" fill="#5c8000"/>
<rect x="401.0" y="396.8" width="10.4" height="10.5" fill="#679900"/>
<rect x="411.2" y="396.8" width="40.5" height="10.5" fill="#679900"/>
<rect x="268.5" y="407.2" width="40.5" height="10.5" fill="#311a00"/>
<rect x="308.8" y="407.2" width="10.4" height="10.5" fill="#171a00"/>
<rect x="319.0" y="407.2" width="10.4" height="10.5" fill="#241a00"/>
<rect x="329.2" y="407.2" width="10.4" height="10.5" fill="#241a00"/>
<rect x="339.5" y="407.2" width="10.4" height="10.5" fill="#311a00"/>
<rect x="349.8" y="407.2" width="10.4" height="10.5" fill="#311a00"/>
<rect x="360.0" y="407.2" width="10.4" height="10.5" fill="#330000"/>
<rect x="370.2" y="407.2" width="10.4" height="10.5" fill="#330000"/>
<rect x="380.5" y="407.2" width="10.4" height="10.5" fill="#428000"/>
<rect x="390.8" y="407.2" width="10.4" height="10.5" fill="#5c8000"/>
<rect x="401.0" y="407.2" width="10.4" height="10.5" fill="#679900"/>
<rect x="411.2" y="407.2" width="40.5" height="10.5" fill="#739900"/>
<rect x="268.5" y="417.5" width="40.5" height="10.5" fill="#311a00"/>
<rect x="308.8" y="417.5" width="10.4" height="10.5" fill="#171a00"/>
<rect x="319.0" y="417.5" width="10.4" height="10.5" fill="#171a00"/>
<rect x="329.2" y="417.5" width="10.4" height="10.5" fill="#171a00"/>
<rect x="339.5" y="417.5" width="10.4" height="10.5" fill="#311a00"/>
<rect x="349.8" y="417.5" width="10.4" height="10.5" fill="#311a00"/>
<rect x="360.0" y="417.5" width="10.4" height="10.5" fill="#311a00"/>
<rect x="370.2" y="417.5" width="10.4" height="10.5" fill="#311a00"/>
<rect x="380.5" y="417.5" width="10.4" height="10.5" fill="#428000"/>
<rect x="390.8" y="417.5" width="10.4" height="10.5" fill="#298000"/>
<rect x="401.0" y="417.5" width="10.4" height="10.5" fill="#739900"/>
<rect x="411.2" y="417.5" width="40.5" height="10.5" fill="#8d9900"/>
<rect x="268.5" y="427.8" width="40.5" height="10.5" fill="#311a00"/>
<rect x="308.8" y="427.8" width="10.4" height="10.5" fill="#241a00"/>
<rect x="319.0" y="427.8" width="10.4" height="10.5" fill="#241a00"/>
<rect x="329.2" y="427.8" width="10.4" height="10.5" fill="#241a00"/>
<rect x="339.5" y="427.8" width="10.4" height="10.5" fill="#311a00"/>
<rect x="349.8" y="427.8" width="10.4" height="10.5" fill="#311a00"/>
<rect x="360.0" y="427.8" width="10.4" height="10.5" fill="#311a00"/>
<rect x="370.2" y="427.8" width="10.4" height="10.5" fill="#311a00"/>
<rect x="380.5" y="427.8" width="10.4" height="10.5" fill="#368000"/>
<rect x="390.8" y="427.8" width="10.4" height="10.5" fill="#368000"/>
<rect x="401.0" y="427.8" width="10.4" height="10.5" fill="#409900"/>
<rect x="411.2" y="427.8" width="40.5" height="10.5" fill="#809900"/>
<rect x="268.5" y="438.1" width="40.5" height="10.5" fill="#2f3300"/>
<rect x="308.8" y="438.1" width="10.4" height="10.5" fill="#2f3300"/>
<rect x="319.0" y="438.1" width="10.4" height="10.5" fill="#2f3300"/>
<rect x="329.2" y="438.1" width="10.4" height="10.5" fill="#2f3300"/>
<rect x="339.5" y="438.1" width="10.4" height="10.5" fill="#2f3300"/>
<rect x="349.8" y="438.1" width="10.4" height="10.5" fill="#2f3300"/>
<rect x="360.0" y="438.1" width="10.4" height="10.5" fill="#2f3300"/>
<rect x="370.2" y="438.1" width="10.4" height="10.5" fill="#2f3300"/>
<rect x="380.5" y="438.1" width="10.4" height="10.5" fill="#3a4c00"/>
<rect x="390.8" y="438.1" width="10.4" height="10.5" fill="#3a4c00"/>
<rect x="401.0" y="438.1" width="10.4" height="10.5" fill="#3a4c00"/>
<rect x="411.2" y="438.1" width="40.5" height="10.5" fill="#464c00"/>
<rect x="268.5" y="448.4" width="40.5" height="10.5" fill="#2f3300"/>
<rect x="308.8" y="448.4" width="10.4" height="10.5" fill="#2f3300"/>
<rect x="319.0" y="448.4" width="10.4" height="10.5" fill="#2f3300"/>
<rect x="329.2" y="448.4" width="10.4" height="10.5" fill="#2f3300"/>
<rect x="339.5" y="448.4" width="10.4" height="10.5" fill="#2f3300"/>
<rect x="349.8" y="448.4" width="10.4" height="10.5" fill="#3c3300"/>
<rect x="360.0" y="448.4" width="10.4" height="10.5" fill="#483300"/>
<rect x="370.2" y="448.4" width="10.4" height="10.5" fill="#483300"/>
<rect x="380.5" y="448.4" width="10.4" height="10.5" fill="#3a4c00"/>
<rect x="390.8" y="448.4" width="10.4" height="10.5" fill="#3a4c00"/>
<rect x="401.0" y="448.4" width="10.4" height="10.5" fill="#3a4c00"/>
<rect x="411.2" y="448.4" width="40.5" height="10.5" fill="#3a4c00"/>
<rect x="268.5" y="458.7" width="40.5" height="10.5" fill="#3c3300"/>
<rect x="308.8" y="458.7" width="10.4" height="10.5" fill="#2f3300"/>
<rect x="319.0" y="458.7" width="10.4" height="10.5" fill="#2d4c00"/>
<rect x="329.2" y="458.7" width="10.4" height="10.5" fill="#2d4c00"/>
<rect x="339.5" y="458.7" width="10.4" height="10.5" fill="#386600"/>
<rect x="349.8" y="458.7" width="10.4" height="10.5" fill="#446600"/>
<rect x="360.0" y="458.7" width="10.4" height="10.5" fill="#446600"/>
<rect x="370.2" y="458.7" width="10.4" height="10.5" fill="#516600"/>
<rect x="380.5" y="458.7" width="10.4" height="10.5" fill="#534c00"/>
<rect x="390.8" y="458.7" width="10.4" height="10.5" fill="#3a4c00"/>
<rect x="401.0" y="458.7" width="10.4" height="10.5" fill="#3c3300"/>
<rect x="411.2" y="458.7" width="40.5" height="10.5" fill="#3c3300"/>
<rect x="268.5" y="469.0" width="40.5" height="10.5" fill="#483300"/>
<rect x="308.8" y="469.0" width="10.4" height="10.5" fill="#483300"/>
<rect x="319.0" y="469.0" width="10.4" height="10.5" fill="#3a4c00"/>
<rect x="329.2" y="469.0" width="10.4" height="10.5" fill="#3a4c00"/>
<rect x="339.5" y="469.0" width="10.4" height="10.5" fill="#446600"/>
<rect x="349.8" y="469.0" width="10.4" height="10.5" fill="#446600"/>
<rect x="360.0" y="469.0" width="10.4" height="10.5" fill="#516600"/>
<rect x="370.2" y="469.0" width="10.4" height="10.5" fill="#446600"/>
<rect x="380.5" y="469.0" width="10.4" height="10.5" fill="#534c00"/>
<rect x="390.8" y="469.0" width="10.4" height="10.5" fill="#464c00"/>
<rect x="401.0" y="469.0" width="10.4" height="10.5" fill="#3c3300"/>
<rect x="411.2" y="469.0" width="40.5" height="10.5" fill="#3c3300"/>
<rect x="268.5" y="479.4" width="40.5" height="10.5" fill="#464c00"/>
<rect x="308.8" y="479.4" width="10.4" height="10.5" fill="#464c00"/>
<rect x="319.0" y="479.4" width="10.4" height="10.5" fill="#446600"/>
<rect x="329.2" y="479.4" width="10.4" height="10.5" fill="#446600"/>
<rect x="339.5" y="479.4" width="10.4" height="10.5" fill="#4f8000"/>
<rect x="349.8" y="479.4" width="10.4" height="10.5" fill="#428000"/>
<rect x="360.0" y="479.4" width="10.4" height="10.5" fill="#4f8000"/>
<rect x="370.2" y="479.4" width="10.4" height="10.5" fill="#4f8000"/>
<rect x="380.5" y="479.4" width="10.4" height="10.5" fill="#464c00"/>
<rect x="390.8" y="479.4" width="10.4" height="10.5" fill="#464c00"/>
<rect x="401.0" y="479.4" width="10.4" height="10.5" fill="#3c3300"/>
<rect x="411.2" y="479.4" width="40.5" height="10.5" fill="#3c3300"/>
<rect x="268.5" y="489.7" width="40.5" height="10.5" fill="#464c00"/>
<rect x="308.8" y="489.7" width="10.4" height="10.5" fill="#464c00"/>
<rect x="319.0" y="489.7" width="10.4" height="10.5" fill="#446600"/>
<rect x="329.2" y="489.7" width="10.4" height="10.5" fill="#446600"/>
<rect x="339.5" y="489.7" width="10.4" height="10.5" fill="#428000"/>
<rect x="349.8" y="489.7" width="10.4" height="10.5" fill="#4f8000"/>
<rect x="360.0" y="489.7" width="10.4" height="10.5" fill="#4f8000"/>
<rect x="370.2" y="489.7" width="10.4" height="10.5" fill="#4f8000"/>
<rect x="380.5" y="489.7" width="10.4" height="10.5" fill="#464c00"/>
<rect x="390.8" y="489.7" width="10.4" height="10.5" fill="#464c00"/>
<rect x="401.0" y="489.7" width="10.4" height="10.5" fill="#3c3300"/>
<rect x="411.2" y="489.7" width="40.5" height="10.5" fill="#3c3300"/>
<rect x="268.5" y="500.0" width="40.5" height="10.5" fill="#464c00"/>
<rect x="308.8" y="500.0" width="10.4" height="10.5" fill="#464c00"/>
<rect x="319.0" y="500.0" width="10.4" height="10.5" fill="#446600"/>
<rect x="329.2" y="500.0" width="10.4" height="10.5" fill="#446600"/>
<rect x="339.5" y="500.0" width="10.4" height="10.5" fill="#4f8000"/>
<rect x="349.8" y="500.0" width="10.4" height="10.5" fill="#428000"/>
<rect x="360.0" y="500.0" width="10.4" height="10.5" fill="#446600"/>
<rect x="370.2" y="500.0" width="10.4" height="10.5" fill="#446600"/>
<rect x="380.5" y="500.0" width="10.4" height="10.5" fill="#464c00"/>
<rect x="390.8" y="500.0" width="10.4" height="10.5" fill="#534c00"/>
<rect x="401.0" y="500.0" width="10.4" height="10.5" fill="#483300"/>
<rect x="411.2" y="500.0" width="40.5" height="10.5" fill="#3c3300"/>
<rect x="268.5" y="510.3" width="40.5" height="10.5" fill="#464c00"/>
<rect x="308.8" y="510.3" width="10.4" height="10.5" fill="#464c00"/>
<rect x="319.0" y="510.3" width="10.4" height="10.5" fill="#516600"/>
<rect x="329.2" y="510.3" width="10.4" height="10.5" fill="#446600"/>
<rect x="339.5" y="510.3" width="10.4" height="10.5" fill="#428000"/>
<rect x="349.8" y="510.3" width="10.4" height="10.5" fill="#4f8000"/>
<rect x="360.0" y="510.3" width="10.4" height="10.5" fill="#446600"/>
<rect x="370.2" y="510.3" width="10.4" height="10.5" fill="#446600"/>
<rect x="380.5" y="510.3" width="10.4" height="10.5" fill="#464c00"/>
<rect x="390.8" y="510.3" width="10.4" height="10.5" fill="#464c00"/>
<rect x="401.0" y="510.3" width="10.4" height="10.5" fill="#483300"/>
<rect x="411.2" y="510.3" width="40.5" height="10.5" fill="#483300"/>
<rect x="268.5" y="520.6" width="40.5" height="10.5" fill="#464c00"/>
<rect x="308.8" y="520.6" width="10.4" height="10.5" fill="#464c00"/>
<rect x="319.0" y="520.6" width="10.4" height="10.5" fill="#446600"/>
<rect x="329.2" y="520.6" width="10.4" height="10.5" fill="#446600"/>
<rect x="339.5" y="520.6" width="10.4" height="10.5" fill="#4f8000"/>
<rect x="349.8" y="520.6" width="10.4" height="10.5" fill="#4f8000"/>
<rect x="360.0" y="520.6" width="10.4" height="10.5" fill="#446600"/>
<rect x="370.2" y="520.6" width="10.4" height="10.5" fill="#446600"/>
<rect x="380.5" y="520.6" width="10.4" height="10.5" fill="#464c00"/>
<rect x="390.8" y="520.6" width="10.4" height="10.5" fill="#464c00"/>
<rect x="401.0" y="520.6" width="10.4" height="10.5" fill="#483300"/>
<rect x="411.2" y="520.6" width="40.5" height="10.5" fill="#483300"/>
<rect x="268.5" y="530.9" width="40.5" height="10.5" fill="#3a4c00"/>
<rect x="308.8" y="530.9" width="10.4" height="10.5" fill="#3a4c00"/>
<rect x="319.0" y="530.9" width="10.4" height="10.5" fill="#446600"/>
<rect x="329.2" y="530.9" width="10.4" height="10.5" fill="#446600"/>
<rect x="339.5" y="530.9" width="10.4" height="10.5" fill="#4f8000"/>
<rect x="349.8" y="530.9" width="10.4" height="10.5" fill="#428000"/>
<rect x="360.0" y="530.9" width="10.4" height="10.5" fill="#446600"/>
<rect x="370.2" y="530.9" width="10.4" height="10.5" fill="#446600"/>
<rect x="380.5" y="530.9" width="10.4" height="10.5" fill="#464c00"/>
<rect x="390.8" y="530.9" width="10.4" height="10.5" fill="#464c00"/>
<rect x="401.0" y="530.9" width="10.4" height="10.5" fill="#483300"/>
<rect x="411.2" y="530.9" width="40.5" height="10.5" fill="#483300"/>
<rect x="268.5" y="541.2" width="40.5" height="10.5" fill="#2f3300"/>
<rect x="308.8" y="541.2" width="10.4" height="10.5" fill="#3c3300"/>
<rect x="319.0" y="541.2" width="10.4" height="10.5" fill="#464c00"/>
<rect x="329.2" y="541.2" width="10.4" height="10.5" fill="#464c00"/>
<rect x="339.5" y="541.2" width="10.4" height="10.5" fill="#446600"/>
<rect x="349.8" y="541.2" width="10.4" height="10.5" fill="#446600"/>
<rect x="360.0" y="541.2" width="10.4" height="10.5" fill="#446600"/>
<rect x="370.2" y="541.2" width="10.4" height="10.5" fill="#446600"/>
<rect x="380.5" y="541.2" width="10.4" height="10.5" fill="#464c00"/>
<rect x="390.8" y="541.2" width="10.4" height="10.5" fill="#464c00"/>
<rect x="401.0" y="541.2" width="10.4" height="10.5" fill="#483300"/>
<rect x="411.2" y="541.2" width="40.5" height="10.5" fill="#483300"/>
<rect x="268.5" y="551.6" width="40.5" height="10.5" fill="#2f3300"/>
<rect x="308.8" y="551.6" width="10.4" height="10.5" fill="#3c3300"/>
<rect x="319.0" y="551.6" width="10.4" height="10.5" fill="#464c00"/>
<rect x="329.2" y="551.6" width="10.4" height="10.5" fill="#464c00"/>
<rect x="339.5" y="551.6" width="10.4" height="10.5" fill="#446600"/>
<rect x="349.8" y="551.6" width="10.4" height="10.5" fill="#446600"/>
<rect x="360.0" y="551.6" width="10.4" height="10.5" fill="#446600"/>
<rect x="370.2" y="551.6" width="10.4" height="10.5" fill="#446600"/>
<rect x="380.5" y="551.6" width="10.4" height="10.5" fill="#464c00"/>
<rect x="390.8" y="551.6" width="10.4" height="10.5" fill="#464c00"/>
<rect x="401.0" y="551.6" width="10.4" height="10.5" fill="#553300"/>
<rect x="411.2" y="551.6" width="40.5" height="10.5" fill="#623300"/>
<rect x="268.5" y="561.9" width="40.5" height="10.5" fill="#2f3300"/>
<rect x="308.8" y="561.9" width="10.4" height="10.5" fill="#2f3300"/>
<rect x="319.0" y="561.9" width="10.4" height="10.5" fill="#2d4c00"/>
<rect x="329.2" y="561.9" width="10.4" height="10.5" fill="#2d4c00"/>
<rect x="339.5" y="561.9" width="10.4" height="10.5" fill="#2b6600"/>
<rect x="349.8" y="561.9" width="10.4" height="10.5" fill="#2b6600"/>
<rect x="360.0" y="561.9" width="10.4" height="10.5" fill="#298000"/>
<rect x="370.2" y="561.9" width="10.4" height="10.5" fill="#428000"/>
<rect x="380.5" y="561.9" width="10.4" height="10.5" fill="#516600"/>
<rect x="390.8" y="561.9" width="10.4" height="10.5" fill="#5e6600"/>
<rect x="401.0" y="561.9" width="10.4" height="10.5" fill="#604c00"/>
<rect x="411.2" y="561.9" width="40.5" height="10.5" fill="#6d4c00"/>
<rect x="268.5" y="572.2" width="40.5" height="10.5" fill="#2f3300"/>
<rect x="308.8" y="572.2" width="10.4" height="10.5" fill="#2f3300"/>
<rect x="319.0" y="572.2" width="10.4" height="10.5" fill="#2d4c00"/>
<rect x="329.2" y="572.2" width="10.4" height="10.5" fill="#2d4c00"/>
<rect x="339.5" y="572.2" width="10.4" height="10.5" fill="#2b6600"/>
<rect x="349.8" y="572.2" width="10.4" height="10.5" fill="#2b6600"/>
<rect x="360.0" y="572.2" width="10.4" height="10.5" fill="#368000"/>
<rect x="370.2" y="572.2" width="10.4" height="10.5" fill="#5c8000"/>
<rect x="380.5" y="572.2" width="10.4" height="10.5" fill="#6b6600"/>
<rect x="390.8" y="572.2" width="10.4" height="10.5" fill="#5e6600"/>
<rect x="401.0" y="572.2" width="10.4" height="10.5" fill="#6d4c00"/>
<rect x="411.2" y="572.2" width="40.5" height="10.5" fill="#6d4c00"/>
<rect x="268.5" y="582.5" width="40.5" height="10.5" fill="#311a00"/>
<rect x="308.8" y="582.5" width="10.4" height="10.5" fill="#311a00"/>
<rect x="319.0" y="582.5" width="10.4" height="10.5" fill="#311a00"/>
<rect x="329.2" y="582.5" width="10.4" height="10.5" fill="#311a00"/>
<rect x="339.5" y="582.5" width="10.4" height="10.5" fill="#2f3300"/>
<rect x="349.8" y="582.5" width="10.4" height="10.5" fill="#2f3300"/>
<rect x="360.0" y="582.5" width="10.4" height="10.5" fill="#446600"/>
<rect x="370.2" y="582.5" width="10.4" height="10.5" fill="#5e6600"/>
<rect x="380.5" y="582.5" width="10.4" height="10.5" fill="#6b6600"/>
<rect x="390.8" y="582.5" width="10.4" height="10.5" fill="#6b6600"/>
<rect x="401.0" y="582.5" width="10.4" height="10.5" fill="#6b6600"/>
<rect x="411.2" y="582.5" width="40.5" height="10.5" fill="#6b6600"/>
<rect x="268.5" y="592.8" width="40.5" height="10.5" fill="#311a00"/>
<rect x="308.8" y="592.8" width="10.4" height="10.5" fill="#311a00"/>
<rect x="319.0" y="592.8" width="10.4" height="10.5" fill="#311a00"/>
<rect x="329.2" y="592.8" width="10.4" height="10.5" fill="#311a00"/>
<rect x="339.5" y="592.8" width="10.4" height="10.5" fill="#2f3300"/>
<rect x="349.8" y="592.8" width="10.4" height="10.5" fill="#483300"/>
<rect x="360.0" y="592.8" width="10.4" height="10.5" fill="#5e6600"/>
<rect x="370.2" y="592.8" width="10.4" height="10.5" fill="#5e6600"/>
<rect x="380.5" y="592.8" width="10.4" height="10.5" fill="#5e6600"/>
<rect x="390.8" y="592.8" width="10.4" height="10.5" fill="#5e6600"/>
<rect x="401.0" y="592.8" width="10.4" height="10.5" fill="#5e6600"/>
<rect x="411.2" y="592.8" width="40.5" height="10.5" fill="#5e6600"/>
<rect x="268.5" y="603.1" width="40.5" height="10.5" fill="#311a00"/>
<rect x="308.8" y="603.1" width="10.4" height="10.5" fill="#311a00"/>
<rect x="319.0" y="603.1" width="10.4" height="10.5" fill="#311a00"/>
<rect x="329.2" y="603.1" width="10.4" height="10.5" fill="#311a00"/>
<rect x="339.5" y="603.1" width="10.4" height="10.5" fill="#311a00"/>
<rect x="349.8" y="603.1" width="10.4" height="10.5" fill="#4a1a00"/>
<rect x="360.0" y="603.1" width="10.4" height="10.5" fill="#623300"/>
<rect x="370.2" y="603.1" width="10.4" height="10.5" fill="#623300"/>
<rect x="380.5" y="603.1" width="10.4" height="10.5" fill="#604c00"/>
<rect x="390.8" y="603.1" width="10.4" height="10.5" fill="#604c00"/>
<rect x="401.0" y="603.1" width="10.4" height="10.5" fill="#604c00"/>
<rect x="411.2" y="603.1" width="40.5" height="10.5" fill="#604c00"/>
<rect x="268.5" y="613.5" width="40.5" height="10.5" fill="#311a00"/>
<rect x="308.8" y="613.5" width="10.4" height="10.5" fill="#311a00"/>
<rect x="319.0" y="613.5" width="10.4" height="10.5" fill="#311a00"/>
<rect x="329.2" y="613.5" width="10.4" height="10.5" fill="#4a1a00"/>
<rect x="339.5" y="613.5" width="10.4" height="10.5" fill="#4a1a00"/>
<rect x="349.8" y="613.5" width="10.4" height="10.5" fill="#641a00"/>
<rect x="360.0" y="613.5" width="10.4" height="10.5" fill="#623300"/>
<rect x="370.2" y="613.5" width="10.4" height="10.5" fill="#623300"/>
<rect x="380.5" y="613.5" width="10.4" height="10.5" fill="#604c00"/>
<rect x="390.8" y="613.5" width="10.4" height="10.5" fill="#604c00"/>
<rect x="401.0" y="613.5" width="10.4" height="10.5" fill="#604c00"/>
<rect x="411.2" y="613.5" width="40.5" height="10.5" fill="#604c00"/>
<rect x="268.5" y="623.8" width="40.5" height="10.5" fill="#4a1a00"/>
<rect x="308.8" y="623.8" width="10.4" height="10.5" fill="#4a1a00"/>
<rect x="319.0" y="623.8" width="10.4" height="10.5" fill="#711a00"/>
<rect x="329.2" y="623.8" width="10.4" height="10.5" fill="#711a00"/>
<rect x="339.5" y="623.8" width="10.4" height="10.5" fill="#711a00"/>
<rect x="349.8" y="623.8" width="10.4" height="10.5" fill="#711a00"/>
<rect x="360.0" y="623.8" width="10.4" height="10.5" fill="#7d1a00"/>
<rect x="370.2" y="623.8" width="10.4" height="10.5" fill="#7d1a00"/>
<rect x="380.5" y="623.8" width="10.4" height="10.5" fill="#7d1a00"/>
<rect x="390.8" y="623.8" width="10.4" height="10.5" fill="#711a00"/>
<rect x="401.0" y="623.8" width="10.4" height="10.5" fill="#711a00"/>
<rect x="411.2" y="623.8" width="40.5" height="10.5" fill="#711a00"/>
<rect x="268.5" y="634.1" width="40.5" height="40.5" fill="#4a1a00"/>
<rect x="308.8" y="634.1" width="10.4" height="40.5" fill="#641a00"/>
<rect x="319.0" y="634.1" width="10.4" height="40.5" fill="#711a00"/>
<rect x="329.2" y="634.1" width="10.4" height="40.5" fill="#7d1a00"/>
<rect x="339.5" y="634.1" width="10.4" height="40.5" fill="#7d1a00"/>
<rect x="349.8" y="634.1" width="10.4" height="40.5" fill="#7d1a00"/>
<rect x="360.0" y="634.1" width="10.4" height="40.5" fill="#7d1a00"/>
<rect x="370.2" y="634.1" width="10.4" height="40.5" fill="#7d1a00"/>
<rect x="380.5" y="634.1" width="10.4" height="40.5" fill="#7d1a00"/>
<rect x="390.8" y="634.1" width="10.4" height="40.5" fill="#7d1a00"/>
<rect x="401.0" y="634.1" width="10.4" height="40.5" fill="#711a00"/>
<rect x="411.2" y="634.1" width="40.5" height="40.5" fill="#711a00"/>
<ellipse cx="343" cy="121" rx="38" ry="8" fill="#78ff00" transform="rotate(27 343 121)"/>
<ellipse cx="371" cy="134" rx="14" ry="7" fill="#b2ff00" transform="rotate(10 371 134)"/>
<ellipse cx="362" cy="120" rx="8" ry="6" fill="#80e600"/>
<ellipse cx="349" cy="104" rx="17" ry="5" fill="#334000" transform="rotate(-10 349 104)"/>
<ellipse cx="320" cy="97" rx="5" ry="5" fill="#bfff00"/>
<ellipse cx="366" cy="93" rx="5.5" ry="4.5" fill="#e6ff00"/>
<ellipse cx="398" cy="141" rx="8" ry="16" fill="#240000"/>
<ellipse cx="386" cy="243" rx="13" ry="8" fill="#a3ff00"/>
<ellipse cx="410" cy="215" rx="8" ry="12" fill="#a3ff00"/>
<ellipse cx="304" cy="374" rx="4.5" ry="3.5" fill="#803300"/>
<ellipse cx="324" cy="471" rx="5" ry="4" fill="#80ff00"/>
<ellipse cx="368" cy="477" rx="11" ry="7" fill="#80ff00" transform="rotate(20 368 477)"/>
<ellipse cx="343" cy="499" rx="8" ry="7" fill="#94ff00"/>
<ellipse cx="354" cy="518" rx="6" ry="5" fill="#85ff00"/>
<ellipse cx="318" cy="515" rx="8" ry="4.5" fill="#7aff00"/>
<ellipse cx="324" cy="543" rx="7" ry="5" fill="#80ff00"/>
<ellipse cx="357" cy="534" rx="5" ry="4" fill="#80ff00"/>
<ellipse cx="307" cy="504" rx="4" ry="4" fill="#6bcc00"/>
<ellipse cx="333" cy="485" rx="6" ry="5" fill="#6bcc00"/>
<polygon points="386,400 392,404 397,416 404,426 412,436 416,444 410,448 400,440 392,430 386,420 383,410" fill="#381a00"/>
<polygon points="402,178 422,177 422,193 412,192 404,190 398,186" fill="#261a00"/>
</g>
<g shape-rendering="crispEdges">
<polygon points="386.0,25.0 389.0,30.2 392.5,34.8 397.2,38.9 399.5,42.4 405.3,43.6 407.1,47.1 408.8,51.2 408.3,59.3 405.9,62.3 404.2,67.5 405.3,72.2 407.7,78.0 411.2,83.8 414.7,89.1 417.0,93.2 420.5,97.8 422.0,99.0 422.0,25.0" fill="#cccccc" />
<polygon points="350.0,25.0 351.7,29.0 352.8,32.5 356.0,33.2 359.3,33.0 363.3,30.8 368.0,28.4 373.3,26.7 374.0,25.0" fill="#cccccc" />
<polygon points="361.5,193.0 365.0,191.5 369.0,191.0 372.0,189.0 373.0,184.0 377.0,180.0 381.0,176.5 386.0,174.0 392.0,171.5 399.0,169.5 408.0,169.0 412.0,167.0 416.0,166.0 422.0,166.0 422.0,176.5 416.0,176.8 411.0,176.5 407.0,177.0 403.0,179.0 399.0,182.5 395.0,186.0 390.0,187.5 384.0,188.5 381.0,191.0 376.0,193.0 372.0,194.5 370.5,196.0 369.0,195.0 364.0,194.8 361.5,194.0" fill="#cccccc" />
<polygon points="402.0,192.5 408.0,192.5 410.5,195.5 411.0,198.5 408.0,201.0 404.0,202.5 401.0,201.0 398.5,200.0 399.0,198.0 401.5,197.5 401.0,194.5" fill="#cccccc" />
<polygon points="420.0,182.0 422.0,182.0 422.0,184.5 420.0,184.5" fill="#cccccc" />
<polygon points="298.0,198.3 309.8,200.3 316.6,199.4 321.4,201.7 323.5,206.5 324.2,210.6 320.8,216.0 318.0,219.6 313.9,224.4 310.4,227.0 309.8,234.0 310.2,237.0 306.0,238.0 305.5,241.0 310.0,241.5 309.0,245.0 307.0,250.5 305.6,257.4 303.6,264.3 300.8,269.0 299.5,272.5 298.0,273.0" fill="#cccccc" />
<polygon points="318.7,221.5 324.9,219.6 324.2,222.3 320.8,225.8 318.7,225.0" fill="#cccccc" />
<polygon points="298.0,283.5 301.0,283.5 302.0,286.0 300.5,289.0 298.0,289.5" fill="#cccccc" />
<polygon points="327.0,309.0 331.0,306.5 335.5,306.0 334.0,308.0 329.0,310.5" fill="#cccccc" />
<polygon points="341.0,307.0 348.0,305.3 350.0,306.3 343.0,308.2" fill="#cccccc" />
<polygon points="298.0,316.0 303.0,316.5 311.0,317.5 320.0,318.5 326.0,318.5 331.0,317.0 336.0,316.5 341.0,315.5 348.0,315.0 356.0,315.0 361.0,314.5 367.0,315.0 373.0,315.5 376.0,318.0 378.0,321.0 382.0,324.5 387.0,327.0 392.0,328.5 395.0,331.5 398.5,335.0 397.0,338.0 396.5,342.0 398.0,346.0 397.5,350.0 395.0,353.0 393.0,357.0 391.5,362.0 390.5,368.0 391.0,378.0 390.7,384.0 388.5,391.0 387.0,396.0 387.8,402.3 385.3,407.3 384.6,412.3 387.0,417.3 389.0,422.3 392.8,428.5 396.5,433.5 401.5,438.5 406.5,443.5 410.3,446.0 416.0,450.0 422.0,452.0 422.0,476.0 411.5,474.8 404.0,474.0 403.2,479.0 402.2,478.5 400.3,473.5 396.5,472.3 397.5,468.0 395.0,465.5 392.5,467.0 392.0,470.0 390.3,469.8 386.5,466.6 389.0,462.3 387.8,458.5 382.8,454.8 376.5,451.0 371.5,448.5 366.5,446.0 364.0,441.5 361.0,437.5 358.5,439.0 361.0,443.0 362.8,445.4 358.4,446.6 355.3,443.5 350.3,441.6 346.5,438.5 344.0,434.8 342.8,431.0 345.9,426.0 344.6,421.6 341.5,419.8 344.6,417.3 344.0,414.8 339.0,411.0 334.0,407.0 329.0,402.5 325.0,397.0 322.0,393.0 319.0,389.0 316.0,385.0 313.0,381.0 310.5,377.5 310.0,374.0 308.0,371.0 305.0,369.5 302.0,371.0 299.5,373.5 298.0,373.5" fill="#cccccc" />
</g>
<g>
<polyline points="358.0,25.5 359.0,28.5 360.4,31.5" fill="none" stroke="#6f9fd8" stroke-width="1.00" stroke-linejoin="round" shape-rendering="crispEdges" />
<polyline points="299.5,317.0 301.0,321.0 300.0,327.0 302.0,331.0" fill="none" stroke="#6f9fd8" stroke-width="1.00" stroke-linejoin="round" shape-rendering="crispEdges" />
<polyline points="312.0,327.0 315.0,329.0 322.0,327.0 331.0,325.0 334.0,321.5 341.0,320.0 346.0,317.0" fill="none" stroke="#6f9fd8" stroke-width="1.00" stroke-linejoin="round" shape-rendering="crispEdges" />
<polyline points="318.0,338.0 321.0,344.0 324.0,347.0 329.0,346.0 333.0,343.0 338.0,342.0 343.0,340.5 342.0,345.0 347.0,349.0 352.0,344.0 361.0,335.0 368.0,332.0 373.5,324.5 376.0,318.0" fill="none" stroke="#6f9fd8" stroke-width="1.00" stroke-linejoin="round" shape-rendering="crispEdges" />
<polyline points="299.0,349.0 302.0,352.0 310.0,350.0 317.0,351.0 322.0,357.0 324.0,361.0" fill="none" stroke="#6f9fd8" stroke-width="1.00" stroke-linejoin="round" shape-rendering="crispEdges" />
<polyline points="303.0,374.0 309.0,370.0 316.0,366.0 322.0,363.5" fill="none" stroke="#6f9fd8" stroke-width="1.00" stroke-linejoin="round" shape-rendering="crispEdges" />
<polyline points="341.0,378.0 347.0,371.0 354.0,369.0 362.0,372.5 370.0,375.0 380.0,371.5 385.0,377.0 390.0,379.0" fill="none" stroke="#6f9fd8" stroke-width="1.00" stroke-linejoin="round" shape-rendering="crispEdges" />
<polyline points="362.0,355.0 363.0,362.0 366.0,368.0 372.0,370.0 377.0,367.0 385.0,369.0 390.5,368.0" fill="none" stroke="#6f9fd8" stroke-width="1.00" stroke-linejoin="round" shape-rendering="crispEdges" />
<polyline points="336.0,381.0 342.0,377.0 350.0,372.0 358.0,370.0" fill="none" stroke="#6f9fd8" stroke-width="1.00" stroke-linejoin="round" shape-rendering="crispEdges" />
<polyline points="327.0,391.0 332.0,388.0 335.0,392.0 338.0,390.0 337.0,394.0" fill="none" stroke="#6f9fd8" stroke-width="1.00" stroke-linejoin="round" shape-rendering="crispEdges" />
<polyline points="342.0,396.0 343.0,403.0 347.0,409.0 353.0,412.0 360.0,415.0 366.0,417.0" fill="none" stroke="#6f9fd8" stroke-width="1.00" stroke-linejoin="round" shape-rendering="crispEdges" />
<polyline points="349.0,385.0 356.0,389.0 362.0,396.0 366.0,404.0 370.0,411.0 374.0,417.0" fill="none" stroke="#6f9fd8" stroke-width="1.00" stroke-linejoin="round" shape-rendering="crispEdges" />
<polyline points="345.0,399.0 349.0,392.0 355.0,389.0" fill="none" stroke="#6f9fd8" stroke-width="1.00" stroke-linejoin="round" shape-rendering="crispEdges" />
<polyline points="357.0,375.0 362.0,380.0 368.0,383.0 376.0,380.0 384.0,384.0 388.0,390.0" fill="none" stroke="#6f9fd8" stroke-width="1.00" stroke-linejoin="round" shape-rendering="crispEdges" />
<polyline points="363.0,392.0 370.0,395.0 378.0,394.0 386.0,397.0" fill="none" stroke="#6f9fd8" stroke-width="1.00" stroke-linejoin="round" shape-rendering="crispEdges" />
<polyline points="346.0,421.0 348.0,427.0 354.0,432.0" fill="none" stroke="#6f9fd8" stroke-width="1.00" stroke-linejoin="round" shape-rendering="crispEdges" />
<polyline points="362.0,425.0 368.0,426.0 372.0,423.0 378.0,423.0" fill="none" stroke="#6f9fd8" stroke-width="1.00" stroke-linejoin="round" shape-rendering="crispEdges" />
<polyline points="389.0,447.0 393.0,450.0 398.0,448.0 404.0,447.0" fill="none" stroke="#6f9fd8" stroke-width="1.00" stroke-linejoin="round" shape-rendering="crispEdges" />
<polyline points="388.0,453.0 394.0,457.0 401.0,462.0 405.0,460.0" fill="none" stroke="#6f9fd8" stroke-width="1.00" stroke-linejoin="round" shape-rendering="crispEdges" />
<polyline points="410.0,450.0 412.0,456.0 414.0,462.0" fill="none" stroke="#6f9fd8" stroke-width="1.00" stroke-linejoin="round" shape-rendering="crispEdges" />
<polyline points="392.0,437.0 396.0,440.0 397.0,436.0" fill="none" stroke="#6f9fd8" stroke-width="1.00" stroke-linejoin="round" shape-rendering="crispEdges" />
<polyline points="307.7,200.3 308.0,206.5 305.6,216.0 298.5,220.5" fill="none" stroke="#808080" stroke-width="1.00" stroke-linejoin="round" shape-rendering="crispEdges" />
<polyline points="360.6,314.5 360.6,338.0" fill="none" stroke="#808080" stroke-width="1.00" stroke-linejoin="round" shape-rendering="crispEdges" />
<polyline points="359.5,344.0 359.5,350.0 362.5,353.0 363.0,358.0 358.0,360.0 352.0,366.0 347.0,371.0 343.0,377.0" fill="none" stroke="#808080" stroke-width="1.00" stroke-linejoin="round" shape-rendering="crispEdges" />
<polyline points="302.0,320.0 305.0,324.0 314.0,322.5 322.0,321.5 330.0,322.0 333.0,326.0 327.0,327.0 322.0,330.0 320.0,335.0 313.0,337.0 308.0,335.0 303.0,338.0 299.0,337.0" fill="none" stroke="#808080" stroke-width="1.00" stroke-linejoin="round" shape-rendering="crispEdges" />
<polyline points="333.0,326.0 340.0,323.0 346.0,322.0 352.0,326.0 356.0,330.0 360.5,333.0" fill="none" stroke="#808080" stroke-width="1.00" stroke-linejoin="round" shape-rendering="crispEdges" />
<polyline points="320.0,335.0 321.0,341.0 325.0,346.0 330.0,349.0 335.0,347.0 338.0,352.0" fill="none" stroke="#808080" stroke-width="1.00" stroke-linejoin="round" shape-rendering="crispEdges" />
<polyline points="313.0,337.0 311.0,342.0 309.0,347.0 311.0,352.0 306.0,354.0 304.0,358.0" fill="none" stroke="#808080" stroke-width="1.00" stroke-linejoin="round" shape-rendering="crispEdges" />
<polyline points="311.0,352.0 316.0,356.0 321.0,355.0 324.0,361.0" fill="none" stroke="#808080" stroke-width="1.00" stroke-linejoin="round" shape-rendering="crispEdges" />
<polyline points="325.0,369.0 330.0,366.0 336.0,365.0 342.0,368.0 343.0,363.0 344.0,358.0" fill="none" stroke="#808080" stroke-width="1.00" stroke-linejoin="round" shape-rendering="crispEdges" />
<polyline points="319.0,375.0 317.0,381.0 314.0,383.0" fill="none" stroke="#808080" stroke-width="1.00" stroke-linejoin="round" shape-rendering="crispEdges" />
<polyline points="322.0,372.0 326.0,375.0 324.0,381.0 319.0,387.0" fill="none" stroke="#808080" stroke-width="1.00" stroke-linejoin="round" shape-rendering="crispEdges" />
<polyline points="326.0,375.0 334.0,372.0 335.0,379.0 340.0,381.0 344.0,378.0" fill="none" stroke="#808080" stroke-width="1.00" stroke-linejoin="round" shape-rendering="crispEdges" />
<polyline points="335.0,379.0 333.0,385.0 336.0,390.0 342.0,389.0 346.0,391.0 349.0,385.0 352.0,380.0 357.0,376.0" fill="none" stroke="#808080" stroke-width="1.00" stroke-linejoin="round" shape-rendering="crispEdges" />
<polyline points="336.0,390.0 332.0,396.0 328.0,400.0" fill="none" stroke="#808080" stroke-width="1.00" stroke-linejoin="round" shape-rendering="crispEdges" />
<polyline points="342.0,389.0 341.0,396.0 337.0,404.0" fill="none" stroke="#808080" stroke-width="1.00" stroke-linejoin="round" shape-rendering="crispEdges" />
<polyline points="346.0,391.0 346.0,398.0 352.0,401.0 358.0,399.0 362.0,396.0" fill="none" stroke="#808080" stroke-width="1.00" stroke-linejoin="round" shape-rendering="crispEdges" />
<polyline points="358.0,399.0 360.0,405.0 357.0,411.0 353.0,414.0" fill="none" stroke="#808080" stroke-width="1.00" stroke-linejoin="round" shape-rendering="crispEdges" />
<polyline points="360.0,405.0 368.0,408.0 374.0,412.0 380.0,417.0" fill="none" stroke="#808080" stroke-width="1.00" stroke-linejoin="round" shape-rendering="crispEdges" />
<polyline points="352.0,366.0 358.0,368.0 364.0,366.0 370.0,370.0" fill="none" stroke="#808080" stroke-width="1.00" stroke-linejoin="round" shape-rendering="crispEdges" />
<polyline points="347.0,420.0 352.0,422.0 358.0,426.0 362.0,430.0 364.0,436.0" fill="none" stroke="#808080" stroke-width="1.00" stroke-linejoin="round" shape-rendering="crispEdges" />
<polyline points="358.0,426.0 364.0,424.0 370.0,428.0 376.0,430.0 382.0,428.0 386.0,424.0" fill="none" stroke="#808080" stroke-width="1.00" stroke-linejoin="round" shape-rendering="crispEdges" />
<polyline points="364.0,436.0 370.0,440.0 376.0,438.0 380.0,442.0 386.0,446.0 392.0,444.0 396.0,440.0" fill="none" stroke="#808080" stroke-width="1.00" stroke-linejoin="round" shape-rendering="crispEdges" />
<polyline points="370.0,428.0 369.0,434.0 370.0,440.0" fill="none" stroke="#808080" stroke-width="1.00" stroke-linejoin="round" shape-rendering="crispEdges" />
<polyline points="376.0,430.0 377.0,438.0" fill="none" stroke="#808080" stroke-width="1.00" stroke-linejoin="round" shape-rendering="crispEdges" />
<polyline points="382.0,428.0 384.0,436.0 390.0,440.0" fill="none" stroke="#808080" stroke-width="1.00" stroke-linejoin="round" shape-rendering="crispEdges" />
<polyline points="380.0,442.0 378.0,447.0" fill="none" stroke="#808080" stroke-width="1.00" stroke-linejoin="round" shape-rendering="crispEdges" />
<polyline points="404.0,460.0 410.0,463.0 416.0,465.0 421.0,468.0" fill="none" stroke="#808080" stroke-width="1.00" stroke-linejoin="round" shape-rendering="crispEdges" />
<polyline points="352.0,433.0 356.0,437.0 354.0,441.0" fill="none" stroke="#808080" stroke-width="1.00" stroke-linejoin="round" shape-rendering="crispEdges" />
<polyline points="398.5,335.0 389.5,335.3 386.0,338.5 380.0,339.5 375.0,341.0 369.0,343.5 365.0,340.5 363.0,338.0 360.0,340.0 359.0,344.0 356.5,344.5 356.0,349.5 352.0,352.0 346.0,355.0 344.0,358.0 342.0,357.5 340.0,354.5 337.0,355.0 334.0,359.0 329.0,360.5 324.0,361.5 324.5,367.0 325.5,369.5 322.0,371.5 319.0,375.0 311.0,375.5 310.0,376.5" fill="none" stroke="#303030" stroke-width="1.00" stroke-linejoin="round" shape-rendering="crispEdges" />
<polyline points="298.5,358.0 304.0,358.5 304.5,361.5 303.0,364.0 303.5,367.0 302.0,369.0" fill="none" stroke="#303030" stroke-width="1.00" stroke-linejoin="round" shape-rendering="crispEdges" />
<polyline points="344.6,416.6 347.8,412.9 352.8,414.8 357.8,417.3 362.1,419.1 366.5,416.6 374.0,418.5 375.9,422.3 381.5,422.9 387.1,422.3 387.8,419.1" fill="none" stroke="#303030" stroke-width="1.00" stroke-linejoin="round" shape-rendering="crispEdges" />
<polyline points="404.6,446.0 404.0,449.8 402.1,450.4 402.8,457.3 407.1,459.8 406.5,462.3 403.4,464.1 404.6,468.5 402.1,472.3 400.3,474.1 402.8,476.0 403.4,479.1" fill="none" stroke="#303030" stroke-width="1.00" stroke-linejoin="round" shape-rendering="crispEdges" />
</g>
<defs><filter id="rag" filterUnits="userSpaceOnUse" x="290" y="20" width="140" height="630"><feTurbulence type="fractalNoise" baseFrequency="0.22" numOctaves="2" seed="4" result="t"/><feDisplacementMap in="SourceGraphic" in2="t" scale="9" xChannelSelector="R" yChannelSelector="G"/></filter></defs>
<g shape-rendering="crispEdges" filter="url(#rag)">
<polygon points="393.4,416.0 396.5,417.9 400.3,422.9 405.3,427.9 410.3,432.3 414.6,436.6 414.0,438.5 409.0,434.8 404.0,429.8 399.0,424.8 395.3,420.4 392.8,417.3" fill="#808080" />
<polygon points="412.1,439.1 415.3,438.5 416.5,442.3 420.3,443.5 422.0,448.5 422.0,458.5 419.0,458.5 416.5,453.5 414.0,449.8 410.9,447.3 410.3,443.5" fill="#808080" />
<polygon points="298.0,476.0 304.0,476.0 304.0,481.0 301.0,485.0 298.0,485.0" fill="#808080" />
<polygon points="298.0,500.0 301.0,500.0 301.0,508.0 298.0,508.0" fill="#808080" />
<polygon points="385.7,501.8 387.9,500.7 388.4,504.0 386.2,505.1 382.9,506.2 381.8,509.6 388.4,512.9 394.6,514.0 394.0,516.2 388.4,515.7 386.2,517.9 379.6,517.3 377.3,514.6 372.9,513.4 375.1,510.7 376.8,506.2 379.6,504.6 382.9,505.1" fill="#808080" />
<polygon points="400.7,522.3 407.3,522.9 408.4,527.3 407.3,536.2 409.6,540.7 415.1,542.9 422.0,542.9 422.0,560.7 416.2,561.8 410.7,559.6 405.1,560.7 399.6,558.4 395.1,560.7 391.8,559.6 390.7,556.2 386.2,552.9 381.8,554.0 378.4,555.7 376.2,554.0 377.3,549.6 377.3,543.0 373.0,543.0 372.9,551.8 372.3,547.3 366.2,546.2 364.6,541.8 362.9,537.9 366.2,532.9 369.6,530.7 374.0,527.3 376.2,528.4 375.1,532.9 376.2,537.9 380.7,538.4 386.2,537.3 392.9,536.2 394.6,530.7 397.3,527.3 399.6,524.0" fill="#808080" />
<polygon points="298.0,561.0 302.0,558.0 308.0,559.0 314.0,560.0 317.0,564.0 320.0,570.0 327.0,572.5 335.5,575.5 341.5,579.0 346.5,582.0 353.5,584.5 358.5,585.5 357.0,590.0 352.0,596.0 349.0,599.0 346.0,600.0 350.0,602.0 356.0,603.0 364.0,604.0 372.0,603.0 380.0,601.0 386.0,602.0 390.0,606.0 391.0,611.0 388.0,616.0 383.0,618.0 378.0,616.0 372.0,620.0 366.0,623.0 361.0,621.5 358.5,626.5 353.5,630.0 347.5,629.0 343.0,631.0 338.0,630.0 332.0,629.0 325.0,629.0 319.0,633.5 326.0,638.5 327.5,645.0 302.0,645.0 301.0,636.0 298.0,636.0 298.0,598.0 304.0,597.0 306.0,592.0 303.0,588.0 310.0,586.0 312.0,580.0 310.0,572.0 309.0,565.0 302.0,565.0 301.0,575.0 298.0,576.0" fill="#808080" />
<polygon points="383.6,576.0 388.0,574.0 394.4,574.8 400.0,573.0 402.0,578.0 396.0,580.0 394.4,583.2 388.0,584.0 383.6,582.0" fill="#808080" />
<polygon points="369.8,583.2 380.0,583.2 380.0,588.0 369.8,588.0" fill="#808080" />
<polygon points="371.0,592.8 380.0,592.8 380.0,598.8 371.0,598.8" fill="#808080" />
<polygon points="399.2,584.4 411.2,584.4 411.2,589.2 399.2,589.2" fill="#808080" />
<polygon points="408.8,596.4 422.0,596.4 422.0,602.4 408.8,602.4" fill="#808080" />
<polygon points="418.0,588.0 422.0,588.0 422.0,597.0 418.0,597.0" fill="#808080" />
<polygon points="359.6,624.0 368.0,622.8 377.6,628.8 389.6,626.4 398.0,628.8 406.4,624.0 412.4,626.4 422.0,628.8 422.0,636.0 411.2,634.8 401.6,638.4 398.0,643.2 392.0,634.8 383.6,633.6 374.0,631.2 363.2,634.8 359.6,628.8" fill="#808080" />
<polygon points="414.0,615.0 422.0,613.0 422.0,620.0 415.0,620.0" fill="#808080" />
</g>
<g shape-rendering="crispEdges" filter="url(#rag)">
<polygon points="311.0,607.5 318.5,607.0 319.0,611.5 315.5,612.5 315.5,621.0 312.0,622.5 308.5,620.0 308.0,617.5 303.0,617.0 302.5,613.0 306.0,610.5 309.0,612.5" fill="#fee691" />
<polygon points="310.0,614.0 314.5,613.0 315.0,620.0 311.0,621.5" fill="#fff0aa" />
<polygon points="343.0,606.0 348.5,605.5 348.0,612.5 343.5,613.0 342.0,609.0" fill="#ffeea4" />
</g>
<g shape-rendering="crispEdges">
<rect x="340.0" y="605.0" width="1.0" height="1.0" fill="#fee187"/>
<rect x="351.0" y="608.0" width="1.0" height="1.0" fill="#fee187"/>
<rect x="304.0" y="622.0" width="2.0" height="1.0" fill="#fee187"/>
<rect x="300.0" y="611.0" width="1.0" height="1.0" fill="#fed976"/>
<rect x="321.0" y="615.0" width="1.0" height="2.0" fill="#fee187"/>
<rect x="346.5" y="599.0" width="2.0" height="2.0" fill="#800026"/>
<rect x="349.0" y="598.5" width="2.0" height="2.0" fill="#a50026"/>
<rect x="299.0" y="637.0" width="2.0" height="7.0" fill="#feb24c"/>
<rect x="410.0" y="68.0" width="2.0" height="2.0" fill="#fd9f44"/>
<rect x="412.0" y="71.0" width="2.0" height="3.0" fill="#fec35e"/>
<rect x="411.0" y="74.0" width="1.0" height="1.0" fill="#fc6a32"/>
<rect x="361.0" y="438.0" width="3.0" height="3.0" fill="#feb24c"/>
<rect x="393.0" y="466.0" width="4.0" height="4.0" fill="#fed070"/>
<rect x="309.5" y="376.5" width="2.0" height="2.0" fill="#b00026"/>
</g>
<path d="M304 146h3v2h-3zM304 147h3v2h-3zM312 147h2v2h-2zM302 148h2v1h-2zM305 148h2v1h-2zM310 148h1v1h-1zM312 148h1v1h-1zM314 148h3v2h-3zM303 149h3v1h-3zM310 149h3v1h-3zM316 149h1v1h-1zM300 150h2v1h-2zM304 150h2v1h-2zM307 150h2v1h-2zM316 150h2v1h-2zM301 151h1v1h-1zM304 151h1v2h-1zM308 151h1v1h-1zM310 151h2v1h-2zM313 151h1v2h-1zM315 151h1v1h-1zM317 151h3v1h-3zM301 152h1v1h-1zM303 152h3v1h-3zM309 152h2v2h-2zM312 152h2v1h-2zM317 152h2v1h-2zM300 153h3v1h-3zM304 153h3v2h-3zM311 153h2v1h-2zM314 153h1v1h-1zM317 153h2v1h-2zM302 154h2v1h-2zM306 154h2v1h-2zM309 154h1v1h-1zM311 154h2v2h-2zM314 154h3v1h-3zM318 154h1v1h-1zM301 155h3v2h-3zM306 155h1v1h-1zM309 155h3v2h-3zM314 155h1v1h-1zM317 155h3v1h-3zM301 156h1v1h-1zM304 156h2v1h-2zM307 156h3v1h-3zM311 156h1v2h-1zM314 156h3v2h-3zM318 156h1v1h-1zM320 156h1v1h-1zM301 157h2v1h-2zM305 157h3v1h-3zM310 157h1v1h-1zM314 157h3v1h-3zM319 157h2v1h-2zM303 158h2v1h-2zM310 158h1v2h-1zM317 158h1v1h-1zM319 158h3v2h-3zM304 159h2v2h-2zM308 159h1v2h-1zM311 159h1v1h-1zM313 159h3v1h-3zM317 159h1v1h-1zM304 160h3v1h-3zM308 160h2v2h-2zM311 160h3v1h-3zM315 160h1v1h-1zM318 160h1v2h-1zM306 161h3v1h-3zM310 161h1v1h-1zM313 161h2v2h-2zM306 162h1v1h-1zM309 162h1v1h-1zM311 162h2v1h-2zM307 163h1v1h-1zM309 163h2v1h-2zM307 164h2v1h-2zM310 164h3v2h-3zM308 165h2v2h-2zM311 165h1v1h-1zM308 166h3v1h-3zM309 167h2v1h-2z" fill="#7f8590" shape-rendering="crispEdges"/>
<path d="M318 90h3v1h-3zM317 91h2v1h-2zM317 92h3v1h-3zM317 93h1v1h-1zM319 93h1v1h-1zM321 93h2v2h-2zM318 94h1v2h-1zM320 94h2v1h-2zM319 95h1v2h-1zM322 95h1v2h-1zM319 96h3v2h-3zM323 96h3v2h-3zM320 97h1v1h-1zM322 97h2v2h-2zM321 98h2v1h-2zM322 99h1v1h-1zM324 99h1v1h-1z" fill="#78879a" shape-rendering="crispEdges"/>
<path d="M308 79h2v1h-2zM307 80h1v1h-1z" fill="#8a93a6" shape-rendering="crispEdges"/>
<rect x="357.2" y="292.6" width="9.5" height="2.0" fill="#808590"/>
<rect x="362.2" y="294.5" width="10.0" height="2.0" fill="#808590"/>
<rect x="372.2" y="295.0" width="10.6" height="1.6" fill="#808590"/>
<rect x="377.8" y="292.0" width="4.4" height="1.0" fill="#808590"/>
<rect x="380.0" y="293.0" width="3.0" height="2.0" fill="#808590"/>
<rect x="358.9" y="290.0" width="5.0" height="1.0" fill="#808590"/>
<rect x="365.6" y="289.6" width="5.5" height="2.0" fill="#808590"/>
<path d="M376 283h1v2h-1zM376 285h2v2h-2zM380 285h2v1h-2z" fill="#808590" shape-rendering="crispEdges"/>
<path d="M360 301h2v1h-2zM363 301h3v1h-3zM364 303h1v1h-1zM361 304h1v1h-1zM363 304h1v1h-1zM360 305h3v1h-3z" fill="#808590" shape-rendering="crispEdges"/>
<path d="M365 215h1v1h-1zM367 215h1v2h-1zM364 216h2v2h-2zM367 216h2v2h-2zM364 217h2v1h-2zM367 217h3v1h-3zM364 218h1v1h-1zM366 218h2v2h-2zM364 219h2v1h-2z" fill="#808590" shape-rendering="crispEdges"/>
<path d="M370 217h2v1h-2zM373 217h2v2h-2zM370 218h2v2h-2zM370 219h3v1h-3zM370 220h2v1h-2zM373 220h2v1h-2z" fill="#808590" shape-rendering="crispEdges"/>
<path d="M363 212h3v2h-3zM356 213h1v1h-1zM364 213h3v2h-3zM374 213h2v1h-2zM356 214h2v1h-2zM362 214h1v1h-1zM367 214h3v2h-3z" fill="#808590" shape-rendering="crispEdges"/>
<path d="M349 558h2v1h-2zM354 559h1v1h-1zM350 560h3v1h-3zM355 560h2v1h-2zM350 561h2v1h-2zM355 561h2v1h-2zM351 563h1v1h-1zM347 564h2v2h-2zM351 564h2v1h-2zM353 565h1v2h-1zM349 566h3v1h-3zM354 566h1v1h-1zM351 567h1v2h-1zM353 567h2v2h-2zM348 568h2v2h-2zM352 568h1v1h-1zM352 569h2v1h-2zM346 570h2v1h-2zM350 570h1v1h-1zM352 570h3v2h-3zM346 571h3v1h-3z" fill="#808080" shape-rendering="crispEdges"/>
<path d="M378 524h2v1h-2zM373 527h1v1h-1zM375 527h2v2h-2zM365 528h3v1h-3zM374 528h2v1h-2zM370 529h2v1h-2zM364 530h1v1h-1zM367 530h2v2h-2zM362 531h3v1h-3zM367 531h1v1h-1zM370 531h2v2h-2zM378 531h3v2h-3zM366 532h1v1h-1zM366 533h1v2h-1zM368 533h1v2h-1zM372 533h1v2h-1zM379 533h2v1h-2zM378 534h2v1h-2zM366 535h1v1h-1zM369 535h1v2h-1zM372 536h1v1h-1zM368 537h1v1h-1zM379 538h3v1h-3zM362 539h1v2h-1zM366 539h1v1h-1zM369 540h1v1h-1zM373 540h1v1h-1zM376 540h2v1h-2zM375 541h2v2h-2zM365 542h1v1h-1zM368 542h2v2h-2zM371 542h1v2h-1zM377 542h1v2h-1zM364 543h3v1h-3zM371 543h2v1h-2zM375 544h3v1h-3zM379 544h1v2h-1z" fill="#808080" shape-rendering="crispEdges"/>
<path d="M401 561h2v1h-2zM406 561h2v1h-2zM401 562h2v1h-2zM405 562h2v1h-2zM394 563h1v1h-1zM410 563h2v2h-2zM413 563h2v1h-2zM417 563h2v1h-2zM396 564h3v2h-3zM403 564h1v1h-1zM418 565h2v1h-2zM408 566h3v1h-3zM410 567h3v1h-3zM416 569h2v1h-2zM393 570h2v2h-2zM408 570h1v1h-1zM410 570h1v1h-1zM416 570h3v1h-3zM396 571h2v1h-2zM408 571h1v1h-1zM417 571h2v2h-2zM420 571h3v1h-3zM394 572h1v1h-1zM406 572h2v1h-2zM412 572h2v2h-2zM397 573h2v1h-2zM400 573h3v1h-3zM411 573h1v1h-1zM416 573h2v1h-2zM419 573h3v1h-3zM393 574h2v1h-2zM401 574h1v2h-1zM418 574h2v1h-2zM395 575h2v1h-2zM402 575h2v1h-2zM409 575h1v1h-1zM411 575h2v2h-2zM415 575h1v1h-1zM403 576h2v1h-2zM411 577h2v1h-2zM417 577h2v2h-2zM407 578h2v1h-2zM397 579h2v1h-2zM407 579h2v1h-2zM404 580h3v1h-3zM410 580h1v1h-1zM419 580h3v2h-3zM394 581h3v2h-3zM408 581h1v1h-1zM412 581h2v2h-2zM417 581h3v1h-3zM402 582h3v1h-3zM415 582h1v1h-1zM407 583h2v1h-2zM410 583h2v1h-2zM393 584h1v1h-1zM398 585h3v2h-3zM412 585h3v2h-3zM397 586h2v1h-2zM409 586h1v1h-1zM415 586h2v1h-2zM393 587h1v1h-1zM404 587h1v1h-1zM401 589h3v1h-3zM412 590h1v1h-1zM394 591h1v1h-1zM400 591h2v1h-2zM410 591h1v1h-1zM416 591h2v2h-2zM399 593h2v1h-2zM410 593h2v2h-2zM396 594h2v1h-2zM399 594h2v2h-2zM406 594h2v1h-2zM415 595h1v1h-1zM398 596h3v1h-3zM419 596h3v1h-3zM397 597h2v1h-2zM405 597h2v1h-2zM419 597h2v1h-2zM399 598h2v1h-2zM402 598h1v1h-1zM405 598h2v2h-2zM416 598h1v1h-1zM419 598h2v1h-2zM393 599h1v1h-1z" fill="#808080" shape-rendering="crispEdges"/>
<path d="M376 604h1v1h-1zM378 604h2v1h-2zM381 604h2v1h-2zM407 604h1v1h-1zM371 605h2v2h-2zM391 605h3v1h-3zM399 605h1v2h-1zM403 605h1v1h-1zM360 606h2v1h-2zM367 606h2v1h-2zM372 606h3v2h-3zM383 606h2v2h-2zM392 606h1v2h-1zM403 606h3v1h-3zM411 606h2v1h-2zM418 606h1v1h-1zM407 607h2v2h-2zM411 607h1v1h-1zM419 607h1v1h-1zM388 608h1v1h-1zM390 608h1v1h-1zM404 608h2v2h-2zM394 609h1v1h-1zM404 609h2v1h-2zM410 609h2v1h-2zM413 609h1v1h-1zM372 610h2v1h-2zM395 610h1v2h-1zM407 610h2v1h-2zM411 610h1v1h-1zM417 610h2v1h-2zM376 611h1v2h-1zM383 611h2v2h-2zM399 611h2v1h-2zM405 611h1v2h-1zM378 612h3v1h-3zM389 612h2v1h-2zM394 612h1v2h-1zM404 612h1v1h-1zM406 612h2v1h-2zM420 612h1v1h-1zM387 613h1v2h-1zM409 613h2v1h-2zM419 613h2v1h-2zM362 614h2v2h-2zM393 614h3v1h-3zM401 614h2v2h-2zM366 615h2v1h-2zM385 615h3v1h-3zM393 615h3v2h-3zM410 615h1v1h-1zM363 616h2v1h-2zM389 616h1v2h-1zM393 616h2v1h-2zM396 616h1v1h-1zM406 616h1v1h-1zM411 616h2v2h-2zM362 617h2v1h-2zM370 617h2v1h-2zM381 617h1v2h-1zM364 618h1v2h-1zM391 618h2v2h-2zM416 618h2v1h-2zM420 618h2v2h-2zM369 619h1v2h-1zM380 619h1v1h-1zM360 620h1v1h-1zM386 620h1v1h-1zM398 620h3v2h-3zM405 620h1v1h-1zM419 620h1v1h-1zM361 621h3v1h-3zM365 621h3v1h-3zM374 621h2v1h-2zM381 621h1v1h-1zM388 621h1v1h-1zM409 621h2v1h-2zM382 622h1v2h-1zM389 622h2v1h-2zM396 622h2v1h-2zM374 623h1v1h-1zM376 623h2v1h-2zM382 623h1v1h-1zM391 623h1v2h-1zM360 624h2v1h-2zM384 625h2v1h-2zM392 625h2v1h-2zM400 625h2v2h-2zM376 626h2v1h-2zM382 626h3v2h-3zM394 626h3v2h-3zM401 626h1v1h-1zM372 627h1v2h-1zM411 627h2v2h-2zM365 628h2v1h-2zM373 628h3v1h-3zM403 628h2v1h-2zM407 628h3v1h-3zM373 629h1v2h-1zM381 629h2v2h-2zM395 629h2v2h-2zM399 629h1v1h-1zM407 629h1v1h-1zM420 629h3v1h-3zM365 630h1v2h-1zM375 630h1v1h-1zM396 630h1v1h-1zM400 630h1v2h-1zM405 630h1v1h-1zM416 630h1v1h-1zM364 631h2v1h-2zM376 631h1v1h-1zM383 631h2v1h-2zM412 631h1v1h-1zM365 632h2v1h-2zM370 632h2v1h-2zM376 632h1v2h-1zM361 633h1v1h-1zM381 633h2v1h-2zM419 633h1v2h-1zM372 634h1v1h-1zM380 634h1v2h-1zM362 635h1v2h-1zM392 635h3v2h-3zM411 635h3v1h-3zM417 635h1v2h-1zM380 636h2v1h-2zM387 636h1v1h-1zM395 636h1v1h-1zM362 637h2v2h-2zM365 637h2v1h-2zM370 637h1v1h-1zM380 637h1v1h-1zM365 638h3v2h-3zM391 638h2v1h-2zM399 638h2v2h-2zM407 638h2v2h-2zM393 639h3v1h-3zM412 639h1v1h-1zM417 639h3v1h-3zM360 640h1v1h-1zM376 640h3v2h-3zM386 640h3v2h-3zM393 640h2v2h-2zM371 641h2v1h-2zM392 641h1v1h-1zM409 641h1v1h-1zM376 642h3v2h-3zM393 642h3v1h-3zM404 642h1v1h-1zM407 642h1v1h-1zM413 642h1v1h-1zM365 643h3v2h-3zM374 643h1v1h-1zM377 643h1v2h-1zM412 643h3v1h-3z" fill="#808080" shape-rendering="crispEdges"/>
<path d="M383 501h2v2h-2zM378 503h3v1h-3zM383 504h3v2h-3zM381 505h1v1h-1zM385 505h3v1h-3zM383 506h1v1h-1zM385 507h3v1h-3z" fill="#808080" shape-rendering="crispEdges"/>
</g>
<rect x="298.5" y="25.5" width="123" height="619" fill="none" stroke="#000" stroke-width="1" shape-rendering="crispEdges"/>
<path d="M291 644.5H298M295 624.5H298M295 603.5H298M295 583.5H298M295 562.5H298M291 541.5H298M295 521.5H298M295 500.5H298M295 479.5H298M295 459.5H298M291 438.5H298M295 417.5H298M295 397.5H298M295 376.5H298M295 356.5H298M291 335.5H298M295 314.5H298M295 294.5H298M295 273.5H298M295 252.5H298M291 232.5H298M295 211.5H298M295 191.5H298M295 170.5H298M295 149.5H298M291 129.5H298M295 108.5H298M295 87.5H298M295 67.5H298M295 46.5H298M291 25.5H298M298.5 645V648M318.5 645V648M339.5 645V648M359.5 645V651M380.5 645V648M400.5 645V648M421.5 645V648" stroke="#000" stroke-width="1" fill="none" shape-rendering="crispEdges"/>
<text transform="translate(289 641.9) rotate(-90)" text-anchor="middle" font-size="12.3" letter-spacing="1.1" font-family="Liberation Sans, sans-serif">0°</text>
<text transform="translate(289 538.8) rotate(-90)" text-anchor="middle" font-size="12.3" letter-spacing="1.1" font-family="Liberation Sans, sans-serif">5°</text>
<text transform="translate(289 434.5) rotate(-90)" text-anchor="middle" font-size="12.3" letter-spacing="1.1" font-family="Liberation Sans, sans-serif">10°</text>
<text transform="translate(289 331.3) rotate(-90)" text-anchor="middle" font-size="12.3" letter-spacing="1.1" font-family="Liberation Sans, sans-serif">15°</text>
<text transform="translate(289 230.5) rotate(-90)" text-anchor="middle" font-size="12.3" letter-spacing="1.1" font-family="Liberation Sans, sans-serif">20°</text>
<text transform="translate(289 127.3) rotate(-90)" text-anchor="middle" font-size="12.3" letter-spacing="1.1" font-family="Liberation Sans, sans-serif">25°</text>
<text transform="translate(289 23.2) rotate(-90)" text-anchor="middle" font-size="12.3" letter-spacing="1.1" font-family="Liberation Sans, sans-serif">30°</text>
<text x="361" y="664" text-anchor="middle" font-size="12.3" letter-spacing="0.9" font-family="Liberation Sans, sans-serif">-85°</text>
<text x="47.5" y="725" text-anchor="middle" font-size="12.3" letter-spacing="0.9" font-family="Liberation Sans, sans-serif">0</text>
<text x="111.6" y="725" text-anchor="middle" font-size="12.3" letter-spacing="0.9" font-family="Liberation Sans, sans-serif">0.1</text>
<text x="175.7" y="725" text-anchor="middle" font-size="12.3" letter-spacing="0.9" font-family="Liberation Sans, sans-serif">0.2</text>
<text x="239.8" y="725" text-anchor="middle" font-size="12.3" letter-spacing="0.9" font-family="Liberation Sans, sans-serif">0.3</text>
<text x="303.9" y="725" text-anchor="middle" font-size="12.3" letter-spacing="0.9" font-family="Liberation Sans, sans-serif">0.4</text>
<text x="368.0" y="725" text-anchor="middle" font-size="12.3" letter-spacing="0.9" font-family="Liberation Sans, sans-serif">0.5</text>
<text x="432.1" y="725" text-anchor="middle" font-size="12.3" letter-spacing="0.9" font-family="Liberation Sans, sans-serif">0.6</text>
<text x="496.2" y="725" text-anchor="middle" font-size="12.3" letter-spacing="0.9" font-family="Liberation Sans, sans-serif">0.7</text>
<text x="560.3" y="725" text-anchor="middle" font-size="12.3" letter-spacing="0.9" font-family="Liberation Sans, sans-serif">0.8</text>
<text x="624.4" y="725" text-anchor="middle" font-size="12.3" letter-spacing="0.9" font-family="Liberation Sans, sans-serif">0.9</text>
<text x="688.5" y="725" text-anchor="middle" font-size="12.3" letter-spacing="0.9" font-family="Liberation Sans, sans-serif">1</text>
<text x="47.7" y="743" font-size="10.3" font-weight="bold" textLength="283.3" lengthAdjust="spacingAndGlyphs" font-family="Liberation Sans, sans-serif">ABI L2+ Aerosol Optical Depth at 550 nm (1)</text>
<text x="48.3" y="754" font-size="10.3"  textLength="616.7" lengthAdjust="spacingAndGlyphs" font-family="Liberation Sans, sans-serif">Experimental NRT AOD daily composite created from ABI L2 data from GOES-19. Fields generated by Atlantic</text>
<text x="48.3" y="765" font-size="10.3"  textLength="185.0" lengthAdjust="spacingAndGlyphs" font-family="Liberation Sans, sans-serif">OceanWatch node at NOAA/AOML</text>
<text x="48.3" y="776" font-size="10.3"  textLength="137.4" lengthAdjust="spacingAndGlyphs" font-family="Liberation Sans, sans-serif">(2026-03-06T00:00:00Z)</text>
<text x="48.3" y="787" font-size="10.3"  textLength="270.7" lengthAdjust="spacingAndGlyphs" font-family="Liberation Sans, sans-serif">Data courtesy of USDOC/NOAA/OAR/AOML/PHOD</text>
</svg>
</body></html>
